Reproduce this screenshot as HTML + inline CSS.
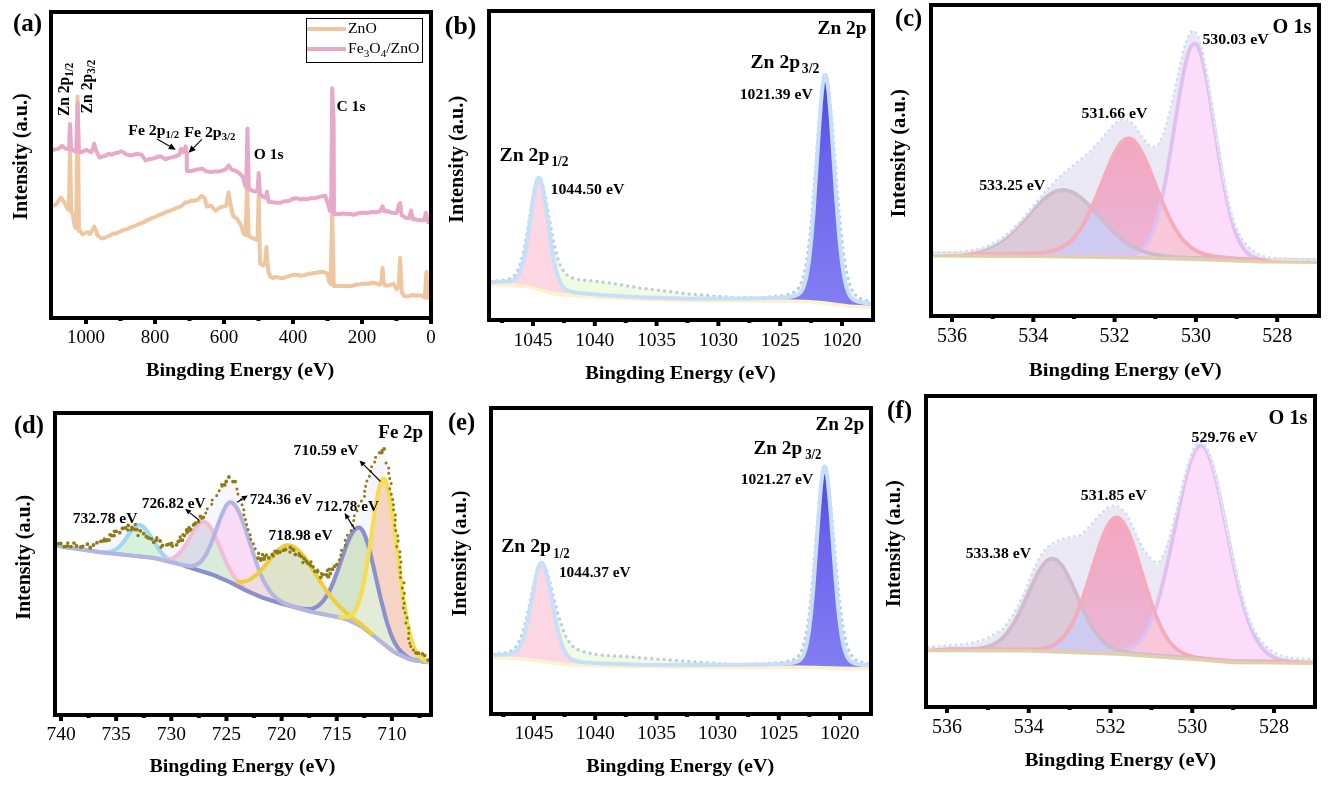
<!DOCTYPE html>
<html><head><meta charset="utf-8"><style>
html,body{margin:0;padding:0;background:#fff;}
svg{display:block;font-family:"Liberation Serif", serif;will-change:transform;}
</style></head><body>
<svg width="1338" height="789" viewBox="0 0 1338 789">
<rect width="1338" height="789" fill="#fff"/>
<path d="M53.0 206.0 L56.5 204.0 L60.8 197.5 L64.0 201.8 L67.3 208.3 L68.8 210.0 L70.0 151.0 L71.3 212.0 L72.6 213.7 L74.8 226.6 L76.2 228.0 L77.6 96.5 L79.0 231.0 L80.2 231.0 L82.3 234.2 L85.0 233.3 L87.7 232.0 L89.9 234.2 L92.5 230.0 L94.2 226.6 L95.8 230.0 L97.4 235.3 L101.8 238.5 L104.7 237.8 L107.5 236.5 L110.4 235.3 L113.1 233.6 L115.8 233.6 L118.5 232.3 L121.2 231.0 L124.1 229.7 L127.1 229.1 L130.0 227.7 L132.9 226.7 L135.8 225.5 L138.6 224.2 L141.5 223.0 L144.2 222.0 L147.0 220.2 L149.8 219.2 L152.5 217.8 L155.2 217.1 L158.0 215.6 L160.7 214.5 L163.5 213.3 L166.2 211.9 L168.9 211.1 L171.7 210.1 L174.4 209.0 L177.0 207.6 L179.7 206.9 L182.3 205.5 L185.0 202.5 L187.6 202.4 L190.9 200.7 L194.2 200.7 L197.5 199.9 L201.6 195.8 L204.9 198.3 L206.6 206.5 L210.7 205.7 L215.6 210.6 L218.1 208.8 L220.6 207.3 L223.4 206.6 L226.3 205.7 L228.5 192.5 L230.5 204.0 L232.9 215.6 L237.0 218.9 L241.2 225.5 L243.6 233.7 L245.5 235.0 L247.1 187.0 L248.7 236.0 L249.1 236.3 L252.1 237.9 L255.2 239.3 L257.5 240.0 L258.7 195.0 L260.0 262.0 L260.3 263.7 L263.3 265.7 L265.2 262.0 L266.4 247.0 L267.4 262.0 L268.4 271.8 L270.4 276.9 L272.9 278.1 L275.5 276.9 L278.1 277.5 L280.6 277.9 L283.7 278.0 L286.7 276.6 L289.8 275.9 L292.8 274.8 L295.5 274.9 L298.2 274.7 L300.9 275.8 L303.4 275.4 L305.9 274.8 L308.5 273.7 L311.0 273.8 L314.1 273.0 L317.1 272.8 L320.1 271.9 L323.2 271.8 L327.3 273.8 L329.3 281.9 L330.5 284.0 L332.2 213.0 L333.8 286.0 L336.5 286.0 L339.2 286.0 L341.9 286.0 L344.6 285.8 L347.3 286.3 L350.0 286.0 L353.2 285.7 L356.5 284.5 L359.1 284.4 L361.7 283.7 L364.3 284.1 L366.8 283.4 L369.4 283.8 L372.0 282.6 L374.6 282.9 L379.5 284.5 L381.3 282.0 L382.5 268.0 L383.7 282.0 L384.8 285.4 L389.4 285.4 L393.5 283.7 L396.8 289.5 L398.8 285.0 L400.1 258.0 L401.4 285.0 L401.7 292.0 L404.2 296.1 L406.9 296.4 L409.7 295.8 L412.4 295.1 L415.2 295.4 L417.9 295.4 L420.7 295.2 L424.8 297.7 L426.4 272.0 L427.6 297.0 L429.0 299.4" fill="none" stroke="#eec7a0" stroke-width="4" stroke-linejoin="round" stroke-linecap="butt" />
<path d="M53.0 150.1 L55.8 149.4 L58.6 148.6 L61.9 145.8 L65.1 148.6 L68.3 149.0 L69.0 149.0 L70.0 124.0 L71.2 150.0 L72.6 150.0 L74.8 151.2 L76.3 151.0 L77.6 103.3 L79.0 152.0 L81.3 152.2 L84.0 150.9 L86.7 150.0 L91.0 152.2 L92.8 149.0 L94.2 143.6 L95.6 149.0 L96.4 151.2 L99.6 157.6 L102.8 156.4 L106.0 155.5 L108.9 153.7 L111.8 154.8 L114.7 153.3 L118.0 152.8 L121.2 151.2 L123.8 152.7 L126.5 154.4 L129.9 155.4 L133.2 154.9 L136.5 153.8 L139.0 154.3 L141.5 154.6 L145.6 160.4 L148.5 159.3 L151.4 158.7 L154.4 158.3 L157.4 156.9 L160.4 156.2 L162.9 157.7 L165.4 159.5 L169.1 157.9 L172.8 157.1 L176.1 156.1 L179.4 154.6 L181.0 148.8 L183.5 152.1 L185.6 146.4 L186.8 153.0 L186.8 171.1 L190.9 171.1 L194.2 170.2 L197.5 169.4 L202.4 168.6 L205.7 171.1 L209.0 171.7 L212.3 171.9 L215.1 171.4 L217.8 171.4 L220.6 171.1 L225.5 169.4 L228.8 165.3 L231.3 169.4 L235.0 170.6 L238.7 172.7 L242.8 176.8 L245.3 185.9 L246.2 187.0 L247.5 128.4 L248.8 189.0 L249.4 189.2 L252.3 190.8 L255.2 191.6 L257.5 191.0 L258.7 173.0 L259.9 193.0 L260.3 194.7 L264.4 197.7 L265.8 197.0 L267.0 191.6 L268.2 199.0 L268.4 201.8 L271.4 202.1 L274.5 202.4 L277.6 202.7 L280.6 202.8 L283.7 201.3 L286.7 201.1 L289.8 200.7 L292.8 198.7 L295.5 198.3 L298.2 198.6 L300.9 199.7 L303.4 198.7 L305.9 199.4 L308.5 198.7 L311.0 198.3 L313.8 198.3 L316.7 197.6 L319.5 196.8 L322.4 196.3 L325.2 195.7 L328.3 204.8 L330.0 210.9 L331.3 195.0 L332.2 88.2 L333.6 120.0 L334.0 213.9 L336.7 213.8 L339.3 214.3 L342.0 213.4 L344.7 213.7 L347.3 214.0 L350.0 213.9 L353.2 214.7 L356.5 213.8 L359.2 213.2 L362.0 212.7 L364.7 212.7 L367.4 213.1 L370.2 212.3 L372.9 212.1 L376.6 212.3 L380.3 211.3 L382.5 206.3 L384.5 211.3 L387.6 210.9 L390.6 212.6 L393.7 213.0 L396.8 212.9 L398.9 205.0 L400.1 203.0 L401.7 215.4 L405.9 217.9 L409.1 217.9 L411.1 210.5 L412.8 219.5 L415.4 219.1 L418.1 220.1 L420.7 220.3 L424.0 220.3 L425.9 212.9 L428.1 222.0 L429.0 222.0" fill="none" stroke="#e8a9c8" stroke-width="4" stroke-linejoin="round" stroke-linecap="butt" />
<rect x="306.5" y="18.5" width="116" height="44" fill="#fff" stroke="#000" stroke-width="1"/>
<line x1="307" y1="29" x2="346" y2="29" stroke="#eec7a0" stroke-width="3.8"/>
<line x1="307" y1="49" x2="346" y2="49" stroke="#e8a9c8" stroke-width="3.8"/>
<defs>
<linearGradient id="gb" x1="0" y1="0" x2="0" y2="1"><stop offset="0" stop-color="#4d44e2"/><stop offset="0.35" stop-color="#6a63ec"/><stop offset="1" stop-color="#837df2"/></linearGradient>
<linearGradient id="gpc" gradientUnits="userSpaceOnUse" x1="0" y1="140" x2="0" y2="256"><stop offset="0" stop-color="#f2a6c0"/><stop offset="1" stop-color="#ebb6d6"/></linearGradient>
<linearGradient id="gpf" gradientUnits="userSpaceOnUse" x1="0" y1="517" x2="0" y2="652"><stop offset="0" stop-color="#f2a6c0"/><stop offset="1" stop-color="#ebb6d6"/></linearGradient>
</defs>
<path d="M491 284.2 511.5 284.9 526 286.4 530 287.1 540 289.6 550.5 292.7 554 293.4 567 295 599 297 640 299.1 689 300.6 788.5 300.9 810 301.5 825 302.9 850 306.1 871 307" fill="none" stroke="#fcf2cf" stroke-width="4" stroke-linejoin="round" stroke-linecap="round" />
<path d="M491 281.1 498 280.8 503 280.3 506.5 279.8 509.5 278.8 512 277.4 514.5 275.3 516.5 272.6 518 269.8 520 264.8 521.5 259.9 523 254 524.5 247 527 233.3 532.5 199 534.5 188.3 535.5 184 536.5 180.7 537.5 178.6 538.5 177.6 539 177.7 539.5 178 541 180.1 542 182.6 543.5 188 546 200.2 553 239.3 555.5 250.5 558 259.4 560.5 265.8 563 270.2 566 273.7 567.5 275.2 569.5 276.6 571.5 277.6 575.5 278.9 581 279.9 595 281.2 610 283 640 287.9 688.5 293.9 715 296.2 735 297.6 750 297.9 764 297.3 774.5 296.6 781.5 295.8 787 294.8 791.5 293.5 794.5 292 796.5 290.5 798.5 288.1 800.5 284.7 802 281 803.5 276.1 805 269.7 807.5 254.9 809.5 238.8 812 213.1 814.5 181.9 819 120.8 821 97.6 822 88.4 823 81.3 824 76.7 824.5 75.4 825 74.8 825.5 74.9 826 75.7 827 78.9 828 84.4 829.5 96.4 832 123.6 837 187.6 840 222 843 249.4 844.5 260.1 846.5 271.6 848 278.4 850 285.2 852 290 854.5 294 857 296.5 858.5 297.6 860.5 298.7 865 300.4 871 301.7 L871 303.7 863.5 302.8 858 301.6 854.5 300.2 852 298.3 850 295.8 848 291.7 846 285.3 844.5 278.6 843 269.9 841.5 258.7 840 244.9 838.5 228.4 836 195.4 831 121.1 829 96.4 828 86.9 827 80 826 75.9 825.5 75 825 74.9 824.5 75.6 824 77.1 823 82.7 822 91.2 821 102.2 819 129.7 813.5 213 811.5 237.4 809.5 256.7 808.5 264.4 807 273.6 806 278.5 804.5 284.2 803 288.2 801.5 291 800 292.9 798 294.5 795 295.8 790.5 296.7 782.5 297.5 772.5 298.1 742.5 298.6 689.5 298.7 640 297.2 601.5 295 587.5 293.8 577 292.7 571.5 291.7 567.5 290.4 565.5 289.2 564 287.9 562.5 286.2 561 283.9 558.5 278.3 556 270 554 261.1 551.5 246.9 545.5 204.8 543.5 192.3 542 184.8 541 181.2 540 178.8 539 177.7 538.5 177.7 538 178.1 537 180 536 183.4 535 188 533 200 528 235.5 525.5 250.9 524 258.5 522.5 264.7 521 269.5 519.5 273.2 518 275.9 516 278.3 514 279.7 512 280.6 509 281.2 505.5 281.6 491 281.9 Z" fill="#f1fbe2" stroke="none" />
<path d="M491 281.9 505.5 281.6 509 281.3 512 280.6 514 279.8 516 278.3 518 275.9 519.5 273.2 521 269.5 522.5 264.7 524 258.5 525.5 251 528 235.6 533 200 535 188 536 183.4 537 180.1 538 178.1 538.5 177.8 539 177.8 540 178.8 541 181.2 542 184.9 543.5 192.3 545.5 204.9 551 243.7 553 255.9 554.5 263.6 556 270.1 558 276.9 560 282 562 285.5 564 288 566.5 289.9 569.5 291.2 573 292.1 580.5 293.2 593 294.4 619 296.1 L619 296.4 599 295.4 565 293.2 552 291.4 539 287.8 530 285.5 527 284.9 511.5 283.3 491 282.6 Z" fill="#fdd6e3" stroke="none" />
<path d="M720.5 298.8 748 298.6 767 298.3 780.5 297.7 790 296.8 795 295.9 798 294.6 799.5 293.4 800.5 292.4 802 290.2 803 288.2 805 282.5 807 273.7 809 260.7 810.5 247.7 812 231.8 814 206.2 819 129.7 821 102.2 822 91.2 823 82.7 824 77.2 824.5 75.6 825 74.9 825.5 75 826 75.9 827 80 828 87 829 96.4 831 121.1 836 195.4 838.5 228.4 840 245 841.5 258.8 843 269.9 844.5 278.7 846 285.4 848 291.7 850 295.8 852 298.3 854.5 300.2 858 301.6 863.5 302.8 871 303.7 L871 305.4 850 304.5 825 301.3 810.5 300 789 299.3 720.5 299.1 Z" fill="url(#gb)" stroke="none" />
<path d="M491 281.1 498 280.8 503 280.3 506.5 279.8 509.5 278.8 512 277.4 514.5 275.3 516.5 272.6 518 269.8 520 264.8 521.5 259.9 523 254 524.5 247 527 233.3 532.5 199 534.5 188.3 535.5 184 536.5 180.7 537.5 178.6 538.5 177.6 539 177.7 539.5 178 541 180.1 542 182.6 543.5 188 546 200.2 553 239.3 555.5 250.5 558 259.4 560.5 265.8 563 270.2 566 273.7 567.5 275.2 569.5 276.6 571.5 277.6 575.5 278.9 581 279.9 595 281.2 610 283 640 287.9 688.5 293.9 715 296.2 735 297.6 750 297.9 764 297.3 774.5 296.6 781.5 295.8 787 294.8 791.5 293.5 794.5 292 796.5 290.5 798.5 288.1 800.5 284.7 802 281 803.5 276.1 805 269.7 807.5 254.9 809.5 238.8 812 213.1 814.5 181.9 819 120.8 821 97.6 822 88.4 823 81.3 824 76.7 824.5 75.4 825 74.8 825.5 74.9 826 75.7 827 78.9 828 84.4 829.5 96.4 832 123.6 837 187.6 840 222 843 249.4 844.5 260.1 846.5 271.6 848 278.4 850 285.2 852 290 854.5 294 857 296.5 858.5 297.6 860.5 298.7 865 300.4 871 301.7" fill="none" stroke="#bacbe1" stroke-width="3.4" stroke-linecap="round" stroke-dasharray="0 6.2"/>
<path d="M491 281.9 505.5 281.6 509 281.2 512 280.6 514 279.7 516 278.3 518 275.9 519.5 273.2 521 269.5 522.5 264.7 524 258.5 525.5 250.9 528 235.5 533 200 535 188 536 183.4 537 180 538 178.1 538.5 177.7 539 177.7 540 178.8 541 181.2 542 184.8 543.5 192.3 545.5 204.8 551.5 246.9 554 261.1 556 270 558.5 278.3 561 283.9 562.5 286.2 564 287.9 565.5 289.2 567.5 290.4 571.5 291.7 577 292.7 587.5 293.8 601.5 295 640 297.2 689.5 298.7 742.5 298.6 772.5 298.1 782.5 297.5 790.5 296.7 795 295.8 798 294.5 800 292.9 801.5 291 803 288.2 804.5 284.2 806 278.5 807 273.6 808.5 264.4 809.5 256.7 811.5 237.4 813.5 213 819 129.7 821 102.2 822 91.2 823 82.7 824 77.1 824.5 75.6 825 74.9 825.5 75 826 75.9 827 80 828 86.9 829 96.4 831 121.1 836 195.4 838.5 228.4 840 244.9 841.5 258.7 843 269.9 844.5 278.6 846 285.3 848 291.7 850 295.8 852 298.3 854.5 300.2 858 301.6 863.5 302.8 871 303.7" fill="none" stroke="#c6e0fa" stroke-width="4" stroke-linejoin="round" stroke-linecap="round" />
<path d="M493 657.4 506.5 657.8 521.5 658.8 533 659.9 551 662.6 569 664.6 600 665.8 642 666.6 700.5 666.9 800.5 667 814 667.3 840.5 668.2 869 668.6" fill="none" stroke="#fcf2cf" stroke-width="4" stroke-linejoin="round" stroke-linecap="round" />
<path d="M493 654.1 499 653.8 503.5 653.3 507 652.6 510 651.6 512.5 650.1 514.5 648.4 516.5 646 518.5 642.7 520.5 638.4 522 634.4 523.5 629.8 525.5 622.5 528.5 609.5 534.5 580.5 537 570.6 538.5 566.2 539.5 564.2 540.5 563 541.5 562.6 542.5 563.1 544 565 546 569.3 547.5 573.5 550 582.3 555.5 604.6 558 613.9 562 626.9 565 634.8 568 640.5 571.5 645 573.5 646.9 575.5 648.3 577.5 649.4 580 650.5 583 651.5 588.5 652.9 600 655.2 620 656.2 638.5 657.7 702 662.4 720 663.6 728 664 740 664.4 758.5 664 772.5 663.3 780.5 662.5 786.5 661.6 791 660.6 794.5 659.1 796.5 657.8 798.5 655.8 800.5 652.8 802 649.5 803.5 645.2 805 639.5 807.5 626.1 809.5 611.4 812 587.7 814 564.9 818.5 508.8 820.5 487.2 821.5 478.7 822.5 472.2 823.5 468 824 466.9 824.5 466.4 825 466.6 825.5 467.4 826.5 470.6 827.5 475.9 828.5 483.1 831 507.2 836.5 570.7 839 596.2 842 620.4 843.5 629.8 845 637.4 846.5 643.5 848.5 649.6 850.5 653.9 853 657.4 855.5 659.6 859 661.5 863.5 662.8 869 663.8 L869 665.5 862 664.9 857 664.1 853.5 663 851 661.6 849 659.6 847 656.4 845 651.3 843.5 645.7 842 638.2 840.5 628.5 839 616.3 837.5 601.5 835 571.7 830 504.4 828 482.7 827 474.8 826 469.4 825.5 467.7 825 466.7 824.5 466.5 824 467 823 470.5 822 477 821 486 819 510 813 592.7 811 614.3 809 630.8 807 642.7 806 647.1 804.5 652.1 803 655.7 801.5 658.1 800 659.8 798 661.2 795 662.3 790.5 663.2 783.5 663.8 774.5 664.3 747 664.8 698 665 640.5 664.7 603.5 663.6 593 663.1 583 662.2 578 661.5 574 660.4 572 659.5 570 658.2 568.5 656.8 567 655 565.5 652.6 564 649.7 561.5 643.4 559 634.9 556.5 624.3 549 585 546.5 573.5 545 568.2 544 565.6 542.5 563.2 541.5 562.7 540.5 563.2 539.5 564.6 538.5 567.1 537 572.3 535 581.6 529.5 611.8 526.5 626.4 525 632.4 523.5 637.6 522 641.8 520 646.1 518.5 648.5 516.5 650.9 514.5 652.4 512 653.6 509.5 654.2 506 654.6 493 655 Z" fill="#f1fbe2" stroke="none" />
<path d="M493 655 506 654.7 509.5 654.3 512 653.6 514.5 652.5 516.5 650.9 518.5 648.5 520 646.1 522 641.8 523.5 637.6 525 632.5 526.5 626.5 529.5 611.9 535 581.6 537 572.4 538.5 567.1 539.5 564.7 540.5 563.2 541.5 562.7 542.5 563.2 544 565.6 545 568.3 546.5 573.5 549 585 556 622 558 631 560 638.6 562 644.9 564 649.8 566 653.5 568 656.3 570.5 658.6 573 660 576.5 661.2 581 662 588.5 662.8 600 663.5 628 664.5 L628 664.8 600 664.2 569.5 663 551 661 533 658.3 521.5 657.2 506.5 656.2 493 655.8 Z" fill="#fdd6e3" stroke="none" />
<path d="M730 665 754 664.8 770.5 664.5 782.5 663.9 791 663.1 796 662.1 797.5 661.5 799 660.6 800.5 659.3 801.5 658.2 803.5 654.7 805.5 649 807 642.7 809 630.9 810.5 618.9 812 604.1 813.5 586.6 819 510 820.5 491.4 821.5 481.2 822.5 473.4 823.5 468.4 824 467.1 824.5 466.5 825 466.7 825.5 467.7 826 469.4 827 474.8 828 482.7 830 504.4 835 571.7 837.5 601.6 839 616.4 840.5 628.6 842 638.3 843.5 645.7 845 651.3 847 656.4 849 659.6 851 661.6 853.5 663.1 857 664.1 862 664.9 869 665.5 L869 667 840.5 666.6 814 665.7 801 665.4 730 665.3 Z" fill="url(#gb)" stroke="none" />
<path d="M493 654.1 499 653.8 503.5 653.3 507 652.6 510 651.6 512.5 650.1 514.5 648.4 516.5 646 518.5 642.7 520.5 638.4 522 634.4 523.5 629.8 525.5 622.5 528.5 609.5 534.5 580.5 537 570.6 538.5 566.2 539.5 564.2 540.5 563 541.5 562.6 542.5 563.1 544 565 546 569.3 547.5 573.5 550 582.3 555.5 604.6 558 613.9 562 626.9 565 634.8 568 640.5 571.5 645 573.5 646.9 575.5 648.3 577.5 649.4 580 650.5 583 651.5 588.5 652.9 600 655.2 620 656.2 638.5 657.7 702 662.4 720 663.6 728 664 740 664.4 758.5 664 772.5 663.3 780.5 662.5 786.5 661.6 791 660.6 794.5 659.1 796.5 657.8 798.5 655.8 800.5 652.8 802 649.5 803.5 645.2 805 639.5 807.5 626.1 809.5 611.4 812 587.7 814 564.9 818.5 508.8 820.5 487.2 821.5 478.7 822.5 472.2 823.5 468 824 466.9 824.5 466.4 825 466.6 825.5 467.4 826.5 470.6 827.5 475.9 828.5 483.1 831 507.2 836.5 570.7 839 596.2 842 620.4 843.5 629.8 845 637.4 846.5 643.5 848.5 649.6 850.5 653.9 853 657.4 855.5 659.6 859 661.5 863.5 662.8 869 663.8" fill="none" stroke="#bacbe1" stroke-width="3.4" stroke-linecap="round" stroke-dasharray="0 6.2"/>
<path d="M493 655 506 654.6 509.5 654.2 512 653.6 514.5 652.4 516.5 650.9 518.5 648.5 520 646.1 522 641.8 523.5 637.6 525 632.4 526.5 626.4 529.5 611.8 535 581.6 537 572.3 538.5 567.1 539.5 564.6 540.5 563.2 541.5 562.7 542.5 563.2 544 565.6 545 568.2 546.5 573.5 549 585 556.5 624.3 559 634.9 561.5 643.4 564 649.7 565.5 652.6 567 655 568.5 656.8 570 658.2 572 659.5 574 660.4 578 661.5 583 662.2 593 663.1 603.5 663.6 640.5 664.7 698 665 747 664.8 774.5 664.3 783.5 663.8 790.5 663.2 795 662.3 798 661.2 800 659.8 801.5 658.1 803 655.7 804.5 652.1 806 647.1 807 642.7 809 630.8 811 614.3 813 592.7 819 510 821 486 822 477 823 470.5 824 467 824.5 466.5 825 466.7 825.5 467.7 826 469.4 827 474.8 828 482.7 830 504.4 835 571.7 837.5 601.5 839 616.3 840.5 628.5 842 638.2 843.5 645.7 845 651.3 847 656.4 849 659.6 851 661.6 853.5 663 857 664.1 862 664.9 869 665.5" fill="none" stroke="#c6e0fa" stroke-width="4" stroke-linejoin="round" stroke-linecap="round" />
<path d="M933 254.1 947.5 253.8 958.5 253.4 967.5 252.5 975 251.3 982.5 249.3 989 246.9 995.5 243.7 1001.5 239.9 1005.5 236.8 1009.5 233.4 1013.5 229.7 1018 225.1 1025.5 216.7 1045 193.5 1050.5 187.4 1055.5 182.3 1060.5 177.5 1066 172.6 1083 159 1090 152.9 1097.5 145.1 1109 131.4 1112.5 127.5 1116.5 123.8 1120 121.6 1122.5 120.8 1125 120.7 1127 121.2 1129.5 122.5 1132 124.6 1135 127.9 1144.5 141.3 1146.5 143.9 1148.5 146 1151 147.8 1153 148.4 1155 148.1 1157 146.9 1158.5 145.3 1159.5 143.8 1162 139 1164.5 132.5 1167 124.4 1171.5 106.3 1181.5 60.5 1183.5 52.4 1185.5 45.3 1187.5 39.6 1189.5 35.3 1190.5 33.8 1191.5 32.8 1193 32.1 1194 32.3 1195 32.9 1196 34 1197.5 36.6 1198.5 39 1200 43.4 1202.5 52.9 1205 64.9 1208 81.8 1219.5 156.2 1222.5 174 1225.5 189.9 1228.5 203.7 1232 217 1235.5 227.3 1237.5 232.1 1239.5 236.1 1242 240.4 1244.5 243.9 1247 246.8 1250 249.7 1253 252.1 1256.5 254.4 1260 256.3 1263.5 257.6 1269.5 259 1277.5 259.8 1288 260.2 1317 260.6 L1317 261 1259.5 260.5 1200 258.3 1148.5 256.8 1050 255.3 933 254.5 Z" fill="#e9e8f4" stroke="none" />
<path d="M947 254.3 955.5 254 963 253.5 969.5 252.8 975 251.9 980.5 250.6 985.5 249 990.5 247 995 244.7 999.5 242.1 1003.5 239.3 1007.5 236.1 1012 232.2 1020 224.2 1037.5 205.1 1042 200.7 1046 197.3 1050.5 194.1 1055 191.7 1059.5 190.4 1063.5 190 1067.5 190.5 1072 192 1076.5 194.4 1081 197.8 1085 201.3 1089.5 205.8 1107 225.2 1114.5 232.9 1119 237 1123 240.3 1127 243.2 1131.5 246.1 1136 248.5 1141 250.6 1146 252.3 1152 253.9 1157.5 255.1 1164 256 1171.5 256.8 1180 257.4 L1180 257.7 1149 256.8 1051.5 255.3 947 254.6 Z" fill="#dccad9" stroke="none" />
<path d="M933 254.1 1004 254.1 1022.5 253.9 1034.5 253.4 1044 252.6 1051.5 251.2 1055 250.2 1058 249.2 1063.5 246.5 1068.5 242.9 1071 240.7 1073.5 238.1 1078 232.6 1082.5 225.7 1087 217.5 1092 206.9 1097 195 1108.5 166.2 1112 158.2 1115 152.1 1118.5 146.1 1120.5 143.3 1122 141.6 1124 139.9 1125.5 139 1127 138.4 1128.5 138.3 1130 138.5 1131.5 139.1 1133 140 1135 141.8 1136.5 143.6 1138.5 146.4 1142 152.5 1145 158.7 1148.5 166.8 1160 196.1 1165 208.2 1170 219 1175 228.3 1179.5 235.2 1184 240.9 1188.5 245.3 1193.5 249.1 1196.5 250.8 1199.5 252.2 1203 253.6 1206.5 254.7 1214.5 256.3 1224.5 257.5 1238.5 258.6 1260 259.7 1317 260.6 L1317 261 1259.5 260.5 1200 258.3 1148.5 256.8 1050 255.3 933 254.5 Z" fill="url(#gpc)" stroke="none" />
<path d="M1121.5 256.1 1128.5 255.4 1133.5 254.3 1136 253.4 1138 252.3 1141.5 249.8 1145 246.1 1147 243.2 1148.5 240.7 1151.5 234.6 1154.5 226.7 1157 218.7 1159.5 209.3 1162 198.4 1165 183.4 1169.5 157.7 1179.5 94.9 1182 80.6 1184.5 68.1 1187 57.7 1189.5 50 1191 46.7 1192 45.2 1193.5 43.9 1194.5 43.6 1195.5 43.9 1197 45.3 1198 46.9 1199.5 50.3 1202 58.2 1204.5 68.7 1207 81.4 1209.5 95.8 1219.5 159.3 1224 185.3 1227 200.5 1229.5 211.6 1232 221.2 1234.5 229.4 1237.5 237.4 1240.5 243.7 1244 249.3 1247.5 253.2 1249.5 254.8 1251.5 256.2 1253.5 257.2 1256 258.3 1261 259.6 1267.5 260.3 L1267.5 260.6 1258.5 260.4 1200 258.3 1152 256.9 1121.5 256.4 Z" fill="#fbdcfb" stroke="none" />
<path d="M947 254.3 1005.5 254.1 1029.5 253.6 1037.5 253.2 1044 252.6 1050 251.5 1055 250.2 1060.5 248.1 1065.5 245.2 1070 241.6 1074.5 237 1079 231.2 1083 224.8 1087 217.5 1091.5 208 1107.5 225.8 1115.5 233.9 1120 237.9 1124 241.1 1128 243.9 1132.5 246.6 1137 248.9 1142 251 1147 252.6 1153 254.2 1158.5 255.2 1165 256.2 1180 257.4 L1180 257.7 1149 256.8 1051.5 255.3 947 254.6 Z" fill="#cfcaf0" stroke="none" />
<path d="M1121.5 256.1 1126 255.8 1130 255.2 1133 254.5 1136 253.4 1139 251.7 1141.5 249.8 1144 247.3 1146 244.7 1148 241.6 1150 237.9 1152 233.4 1154 228.2 1156 222.1 1158 215.1 1161.5 200.7 1162 201.1 1166.5 211.6 1171 221 1175 228.3 1178.5 233.8 1182.5 239.1 1186.5 243.5 1191 247.3 1195.5 250.3 1200 252.4 1205 254.2 1210.5 255.6 1216.5 256.6 1223 257.4 1231.5 258.1 1262 259.7 1267.5 260.3 L1267.5 260.6 1258.5 260.4 1200 258.3 1152 256.9 1121.5 256.4 Z" fill="#f8c7d9" stroke="none" />
<path d="M1121.5 256.1 1127.5 255.6 1132.5 254.6 1136.5 253.1 1138.5 252 1140.5 250.6 1141 250.6 1145 252 1149 253.2 1158 255.1 1168 256.5 1180 257.4 L1180 257.7 1150 256.8 1121.5 256.4 Z" fill="#e6d0f0" stroke="none" />
<path d="M933 254.5 1049 255.3 1105.5 256.1 1119 256.1 1126.5 255.7 1132 254.7 1134.5 254 1137 252.9 1139 251.7 1141 250.2 1143.5 247.8 1146 244.7 1148.5 240.7 1150.5 236.8 1152.5 232.2 1154.5 226.7 1156.5 220.4 1158.5 213.2 1162.5 196 1166.5 175.2 1170.5 151.5 1179.5 94.9 1184 70.4 1187 57.7 1189.5 50 1191 46.7 1192 45.2 1193.5 43.9 1194.5 43.6 1195.5 43.9 1196.5 44.7 1197.5 46.1 1199 49 1201 54.7 1203.5 64.2 1206 76.1 1208.5 89.9 1220.5 165.4 1223.5 182.6 1226.5 198.1 1230 213.6 1233.5 226.3 1237 236.2 1239 240.8 1241 244.6 1243 247.9 1245 250.5 1247 252.7 1249 254.5 1251.5 256.2 1254 257.5 1256.5 258.4 1259.5 259.3 1265 260.1 1273 260.5 1317 261" fill="none" stroke="#e0c0f0" stroke-width="3.8" stroke-linejoin="round" stroke-linecap="round" />
<path d="M933 254.4 955 254 962.5 253.6 969.5 252.8 976 251.7 982 250.1 987.5 248.3 992.5 246 997.5 243.3 1002 240.4 1006.5 237 1011 233.1 1019.5 224.7 1038 204.6 1042.5 200.3 1046.5 196.9 1051 193.8 1055 191.7 1059.5 190.4 1063.5 190 1067.5 190.5 1072 192 1076.5 194.4 1081.5 198.2 1085.5 201.8 1090 206.3 1105.5 223.6 1112 230.5 1118 236.2 1124 241.1 1129.5 244.9 1135.5 248.2 1141.5 250.8 1147.5 252.8 1155 254.6 1163 255.9 1172.5 256.9 1184.5 257.6 1259.5 260.5 1317 261" fill="none" stroke="#ccbccc" stroke-width="3.8" stroke-linejoin="round" stroke-linecap="round" />
<path d="M933 254.1 1004 254.1 1022.5 253.9 1034.5 253.4 1044 252.6 1051.5 251.2 1055 250.2 1058 249.2 1063.5 246.5 1068.5 242.9 1071 240.7 1073.5 238.1 1078 232.6 1082.5 225.7 1087 217.5 1092 206.9 1097 195 1108.5 166.2 1112 158.2 1115 152.1 1118.5 146.1 1120.5 143.3 1122 141.6 1124 139.9 1125.5 139 1127 138.4 1128.5 138.3 1130 138.5 1131.5 139.1 1133 140 1135 141.8 1136.5 143.6 1138.5 146.4 1142 152.5 1145 158.7 1148.5 166.8 1160 196.1 1165 208.2 1170 219 1175 228.3 1179.5 235.2 1184 240.9 1188.5 245.3 1193.5 249.1 1196.5 250.8 1199.5 252.2 1203 253.6 1206.5 254.7 1214.5 256.3 1224.5 257.5 1238.5 258.6 1260 259.7 1317 260.6" fill="none" stroke="#f4abbb" stroke-width="3.8" stroke-linejoin="round" stroke-linecap="round" />
<path d="M933 255.7 1050 256.5 1148.5 258 1200 259.5 1259.5 261.7 1317 262.2" fill="none" stroke="#dcd0ae" stroke-width="3.6" stroke-linejoin="round" stroke-linecap="round" />
<path d="M933 253.6 947.5 253.3 958.5 252.9 967.5 252 975 250.8 982.5 248.8 989 246.4 995.5 243.2 1001.5 239.4 1005.5 236.3 1009.5 232.9 1013.5 229.2 1018 224.6 1025.5 216.2 1045 193 1050.5 186.9 1055.5 181.8 1060.5 177 1066 172.1 1083 158.5 1090 152.4 1097.5 144.6 1109 130.9 1112.5 127 1116.5 123.3 1120 121.1 1122.5 120.3 1125 120.2 1127 120.7 1129.5 122 1132 124.1 1135 127.4 1144.5 140.8 1146.5 143.4 1148.5 145.5 1151 147.3 1153 147.9 1155 147.6 1157 146.4 1158.5 144.8 1159.5 143.3 1162 138.5 1164.5 132 1167 123.9 1171.5 105.8 1181.5 60 1183.5 51.9 1185.5 44.8 1187.5 39.1 1189.5 34.8 1190.5 33.3 1191.5 32.3 1193 31.6 1194 31.8 1195 32.4 1196 33.5 1197.5 36.1 1198.5 38.5 1200 42.9 1202.5 52.4 1205 64.4 1208 81.3 1219.5 155.7 1222.5 173.5 1225.5 189.4 1228.5 203.2 1232 216.5 1235.5 226.8 1237.5 231.6 1239.5 235.6 1242 239.9 1244.5 243.4 1247 246.3 1250 249.2 1253 251.6 1256.5 253.9 1260 255.8 1263.5 257.1 1269.5 258.5 1277.5 259.3 1288 259.7 1317 260.1" fill="none" stroke="#f6eef6" stroke-width="1.5" stroke-linejoin="round" stroke-linecap="round" />
<path d="M933 252.8 947.5 252.5 958.5 252.1 967.5 251.2 975 250 982.5 248 989 245.6 995.5 242.4 1001.5 238.6 1005.5 235.5 1009.5 232.1 1013.5 228.4 1018 223.8 1025.5 215.4 1045 192.2 1050.5 186.1 1055.5 181 1060.5 176.2 1066 171.3 1083 157.7 1090 151.6 1097.5 143.8 1109 130.1 1112.5 126.2 1116.5 122.5 1120 120.3 1122.5 119.5 1125 119.4 1127 119.9 1129.5 121.2 1132 123.3 1135 126.6 1144.5 140 1146.5 142.6 1148.5 144.7 1151 146.5 1153 147.1 1155 146.8 1157 145.6 1158.5 144 1159.5 142.5 1162 137.7 1164.5 131.2 1167 123.1 1171.5 105 1181.5 59.2 1183.5 51.1 1185.5 44 1187.5 38.3 1189.5 34 1190.5 32.5 1191.5 31.5 1193 30.8 1194 31 1195 31.6 1196 32.7 1197.5 35.3 1198.5 37.7 1200 42.1 1202.5 51.6 1205 63.6 1208 80.5 1219.5 154.9 1222.5 172.7 1225.5 188.6 1228.5 202.4 1232 215.7 1235.5 226 1237.5 230.8 1239.5 234.8 1242 239.1 1244.5 242.6 1247 245.5 1250 248.4 1253 250.8 1256.5 253.1 1260 255 1263.5 256.3 1269.5 257.7 1277.5 258.5 1288 258.9 1317 259.3" fill="none" stroke="#cadff5" stroke-width="2.9" stroke-linecap="round" stroke-dasharray="0 5.6"/>
<path d="M928 648.5 965.5 645.6 967.5 645.3 985 640.9 1002.5 630.8 1004.5 628.5 1013 616.4 1015 613 1024.5 594.3 1034.5 569.1 1041 556.7 1043 553.8 1050 546.2 1051 545.5 1056 543 1058 542.2 1067.5 538.9 1079 536.7 1080 536.4 1081 535.9 1088 529.9 1095.5 520.6 1097.5 518.4 1107.5 509.2 1108.5 508.4 1109.5 508 1115.5 506.8 1117 506.9 1118 507.5 1126 514.5 1127 515.8 1128 517.7 1136 535.5 1142 548.4 1143.5 551 1152 561.4 1153 562.3 1154.5 563 1158 563.7 1159 563.5 1159.5 563.1 1160.5 561.6 1165 553.2 1169 541 1173 526.2 1184 480 1187 469 1190 459.4 1193 451.8 1195.5 447.2 1197 445.3 1198 444.3 1199.5 443.5 1200.5 443.3 1202 443.7 1203.5 444.7 1205 446.4 1206.5 448.8 1208 451.8 1209.5 455.5 1213 466.3 1216 477.7 1219 490.7 1233 559.4 1236.5 575.2 1239.5 587.7 1243.5 602.5 1247 613.6 1250.5 622.9 1254.5 631.7 1257 636.2 1259.5 640.1 1262 643.4 1264.5 646.3 1267 648.7 1270 651.2 1273 653.3 1276.5 655.2 1279.5 656.6 1283 657.8 1286.5 658.6 1290.5 659.3 1299.5 660.1 1313 660.5 L1313 662 1232 661.2 1200.5 658.5 1117.5 652.7 1068 650.9 1024 649.6 928 649.3 Z" fill="#e9e8f4" stroke="none" />
<path d="M970 649.1 976.5 648.7 981.5 648.1 986.5 647 990.5 645.8 994.5 643.9 998 641.8 1001.5 639 1005 635.5 1008 631.9 1011 627.7 1014 622.9 1017 617.4 1022 607.3 1034.5 579.8 1037.5 573.9 1040.5 568.6 1043.5 564.3 1046.5 561.2 1048 560 1049.5 559.2 1051 558.8 1052.5 558.6 1054 558.8 1055.5 559.4 1057 560.3 1058.5 561.5 1061.5 564.9 1064.5 569.4 1067.5 574.8 1070.5 580.9 1082.5 608 1088 619.5 1091 625 1094 630 1097 634.3 1100 638 1103 641.2 1106.5 644.2 1110 646.5 1114 648.6 1118.5 650.3 1123 651.6 1128.5 652.7 1135 653.6 L1135 653.9 1114.5 652.5 1026.5 649.6 970 649.4 Z" fill="#dccad9" stroke="none" />
<path d="M1029.5 649.4 1037 649.1 1043 648.4 1048 647.2 1052.5 645.5 1056.5 643.2 1060.5 640 1064 636.2 1067.5 631.5 1070.5 626.7 1073.5 620.9 1076.5 614.3 1080 605.6 1086 588.2 1098.5 548.6 1101.5 540 1104.5 532.4 1108 525.2 1111 520.8 1112.5 519.3 1114 518.2 1115.5 517.6 1117 517.5 1118.5 517.9 1120 518.8 1121.5 520.1 1123 522 1126 526.9 1129 533.5 1132 541.3 1135 550.2 1147.5 591.1 1153.5 609.1 1157 618.3 1160 625.2 1163 631.3 1166 636.6 1169.5 641.6 1173 645.7 1177 649.4 1181 652.1 1185.5 654.3 1190.5 656 1196.5 657.4 1204 658.5 L1204 658.8 1116 652.6 1029.5 649.7 Z" fill="url(#gpf)" stroke="none" />
<path d="M1107 652 1116.5 651.6 1123 650.7 1126 650 1128.5 649.1 1133 646.8 1135.5 645 1137.5 643.3 1140 640.6 1142 638.1 1146 631.9 1149.5 624.9 1153 616.3 1156 607.7 1159.5 595.9 1163 582.6 1169 556.3 1182 493.9 1185.5 478.9 1188.5 467.7 1192 457.1 1193.5 453.5 1195 450.5 1196.5 448.2 1198 446.5 1199.5 445.6 1201 445.3 1202.5 445.8 1204 447 1205.5 448.9 1207 451.4 1208.5 454.7 1210 458.5 1213.5 469.7 1216.5 481.4 1219.5 494.6 1232.5 558.8 1239 588 1242.5 601.7 1246 613.7 1249 622.6 1252.5 631.4 1256 638.7 1260 645.2 1262 647.9 1264.5 650.7 1266.5 652.6 1269 654.6 1271.5 656.2 1274 657.5 1276.5 658.5 1279.5 659.4 1286.5 660.8 1295 661.5 L1295 661.8 1232 661.2 1200 658.5 1118 652.7 1107 652.3 Z" fill="#fbdcfb" stroke="none" />
<path d="M1029.5 649.4 1035 649.3 1039.5 648.9 1043.5 648.3 1047.5 647.4 1051 646.2 1054 644.7 1057 642.8 1060 640.4 1063 637.4 1065.5 634.4 1068 630.8 1070.5 626.7 1073 621.9 1075.5 616.6 1080.5 604.2 1081 604.7 1088 619.5 1093 628.4 1095.5 632.2 1098.5 636.2 1101 639.1 1104 642.1 1107 644.5 1110 646.5 1113 648.1 1117 649.8 1121 651.1 1125 652.1 1135 653.6 L1135 653.9 1114.5 652.5 1029.5 649.7 Z" fill="#cfcaf0" stroke="none" />
<path d="M1107 652 1112.5 651.8 1118 651.4 1121.5 651 1124.5 650.4 1127.5 649.5 1130.5 648.2 1133.5 646.5 1136 644.6 1138.5 642.3 1141 639.4 1143.5 636 1145.5 632.8 1148 628.1 1150 623.8 1152.5 617.7 1154.5 612.2 1160 625.2 1164.5 634 1167 638.1 1169.5 641.6 1172 644.7 1174.5 647.2 1177 649.4 1180 651.5 1183 653.2 1186.5 654.7 1190 655.9 1194 656.9 1204 658.5 L1204 658.8 1118 652.7 1107 652.3 Z" fill="#f8c7d9" stroke="none" />
<path d="M1107 652 1113.5 651.8 1121 651.1 1127 652.5 1135 653.6 L1135 653.9 1117 652.7 1107 652.3 Z" fill="#e6d0f0" stroke="none" />
<path d="M928 649.3 1024.5 649.6 1094.5 651.8 1109 651.9 1118.5 651.4 1124.5 650.4 1127.5 649.5 1130 648.4 1132.5 647.1 1135 645.4 1138 642.8 1140.5 640.1 1143.5 636 1146 631.9 1148.5 627.1 1151 621.4 1155.5 609.2 1158 601.2 1160.5 592.3 1165.5 572.1 1170 551.6 1181.5 496.2 1184.5 483 1187.5 471.3 1191 459.8 1193 454.6 1194.5 451.4 1196.5 448.2 1198 446.5 1199.5 445.6 1201 445.3 1202.5 445.8 1204 447 1205.5 448.9 1207 451.4 1208.5 454.7 1210 458.5 1213 467.9 1216 479.3 1219.5 494.6 1233 561.2 1236.5 577.3 1240 592.1 1244 607 1247.5 618.3 1251.5 629.1 1255.5 637.7 1257.5 641.3 1260 645.2 1262 647.9 1264.5 650.7 1267 653 1269.5 654.9 1272 656.5 1275 657.9 1278 659 1281 659.8 1288.5 661 1298 661.6 1313 662" fill="none" stroke="#e0c0f0" stroke-width="3.8" stroke-linejoin="round" stroke-linecap="round" />
<path d="M928 649.3 963.5 649.3 971.5 649 978 648.6 984 647.6 989.5 646.1 994 644.2 998.5 641.4 1002.5 638.1 1006.5 633.8 1010.5 628.4 1014.5 622 1017.5 616.5 1021 609.4 1035 578.8 1038 572.9 1041 567.9 1044 563.7 1047 560.7 1048.5 559.7 1050 559 1052.5 558.6 1054 558.8 1055.5 559.4 1057 560.3 1058.5 561.5 1061.5 564.9 1065 570.2 1068 575.8 1071 582 1082 606.9 1086.5 616.5 1091 625 1095.5 632.2 1100 638 1102.5 640.7 1105 643 1107.5 644.9 1110 646.5 1112.5 647.9 1115.5 649.2 1120 650.8 1124.5 652 1130 652.9 1137 653.8 1150 654.9 1201.5 658.6 1231 661.1 1313 662" fill="none" stroke="#ccbccc" stroke-width="3.8" stroke-linejoin="round" stroke-linecap="round" />
<path d="M928 649.3 1011.5 649.5 1034.5 649.3 1041.5 648.7 1047.5 647.4 1052.5 645.5 1057 642.8 1059.5 640.9 1061.5 639 1064 636.2 1066 633.7 1070 627.5 1074 619.9 1078 610.7 1082.5 598.7 1087 585.1 1098 550.1 1101 541.3 1104 533.6 1107.5 526.1 1110.5 521.4 1112 519.7 1113.5 518.5 1115 517.7 1116.5 517.5 1118 517.7 1119.5 518.4 1121 519.6 1123 522 1126 526.9 1129.5 534.7 1132.5 542.7 1135.5 551.7 1146.5 587.9 1151 602 1155.5 614.5 1160 625.2 1164 633.2 1168.5 640.3 1170.5 642.9 1173 645.7 1175.5 648.1 1178 650.1 1181.5 652.4 1185 654.1 1189 655.6 1194 656.9 1199 657.8 1207 658.8 1228.5 660.9 1234 661.2 1313 662" fill="none" stroke="#f4abbb" stroke-width="3.8" stroke-linejoin="round" stroke-linecap="round" />
<path d="M928 650.5 1024 650.8 1068 652.1 1117.5 653.9 1200.5 659.7 1232 662.4 1313 663.2" fill="none" stroke="#dcd0ae" stroke-width="3.6" stroke-linejoin="round" stroke-linecap="round" />
<path d="M928 648 965.5 645.1 967.5 644.8 985 640.4 1002.5 630.3 1004.5 628 1013 615.9 1015 612.5 1024.5 593.8 1034.5 568.6 1041 556.2 1043 553.3 1050 545.7 1051 545 1056 542.5 1058 541.7 1067.5 538.4 1079 536.2 1080 535.9 1081 535.4 1088 529.4 1095.5 520.1 1097.5 517.9 1107.5 508.7 1108.5 507.9 1109.5 507.5 1115.5 506.3 1117 506.4 1118 507 1126 514 1127 515.3 1128 517.2 1136 535 1142 547.9 1143.5 550.5 1152 560.9 1153 561.8 1154.5 562.5 1158 563.2 1159 563 1159.5 562.6 1160.5 561.1 1165 552.7 1169 540.5 1173 525.7 1184 479.5 1187 468.5 1190 458.9 1193 451.3 1195.5 446.7 1197 444.8 1198 443.8 1199.5 443 1200.5 442.8 1202 443.2 1203.5 444.2 1205 445.9 1206.5 448.3 1208 451.3 1209.5 455 1213 465.8 1216 477.2 1219 490.2 1233 558.9 1236.5 574.7 1239.5 587.2 1243.5 602 1247 613.1 1250.5 622.4 1254.5 631.2 1257 635.7 1259.5 639.6 1262 642.9 1264.5 645.8 1267 648.2 1270 650.7 1273 652.8 1276.5 654.7 1279.5 656.1 1283 657.3 1286.5 658.1 1290.5 658.8 1299.5 659.6 1313 660" fill="none" stroke="#f6eef6" stroke-width="1.5" stroke-linejoin="round" stroke-linecap="round" />
<path d="M928 647.2 965.5 644.3 967.5 644 985 639.6 1002.5 629.5 1004.5 627.2 1013 615.1 1015 611.7 1024.5 593 1034.5 567.8 1041 555.4 1043 552.5 1050 544.9 1051 544.2 1056 541.7 1058 540.9 1067.5 537.6 1079 535.4 1080 535.1 1081 534.6 1088 528.6 1095.5 519.3 1097.5 517.1 1107.5 507.9 1108.5 507.1 1109.5 506.7 1115.5 505.5 1117 505.6 1118 506.2 1126 513.2 1127 514.5 1128 516.4 1136 534.2 1142 547.1 1143.5 549.7 1152 560.1 1153 561 1154.5 561.7 1158 562.4 1159 562.2 1159.5 561.8 1160.5 560.3 1165 551.9 1169 539.7 1173 524.9 1184 478.7 1187 467.7 1190 458.1 1193 450.5 1195.5 445.9 1197 444 1198 443 1199.5 442.2 1200.5 442 1202 442.4 1203.5 443.4 1205 445.1 1206.5 447.5 1208 450.5 1209.5 454.2 1213 465 1216 476.4 1219 489.4 1233 558.1 1236.5 573.9 1239.5 586.4 1243.5 601.2 1247 612.3 1250.5 621.6 1254.5 630.4 1257 634.9 1259.5 638.8 1262 642.1 1264.5 645 1267 647.4 1270 649.9 1273 652 1276.5 653.9 1279.5 655.3 1283 656.5 1286.5 657.3 1290.5 658 1299.5 658.8 1313 659.2" fill="none" stroke="#cadff5" stroke-width="2.9" stroke-linecap="round" stroke-dasharray="0 5.6"/>
<path d="M57 543 63 544.5 84 547.1 99.5 544 101 543.4 114.5 534 125 527.6 126.5 527 133 527.6 140 531.3 141.5 532.3 153.5 541.9 154.5 542.5 173.5 546.3 174.5 546.2 181.5 539.3 194.5 523.7 202 517.4 203 516.2 217 494 223 483.2 223.5 482.8 229.5 480.2 230 480.2 230.5 480.3 235.5 483.7 236.5 485.5 240 496.2 245 515.8 251.5 539.4 257.5 555.1 258.5 556.5 261 559.1 261.5 559.5 262 559.7 262.5 559.7 270.5 555.6 280.5 549.6 281.5 549.2 292 549.2 293 549.8 301 555.9 317 571.9 324 576.8 324.5 577.1 325 577 325.5 576.7 337 563.7 338 561.9 345 544.9 353 523 365.5 488.4 372.5 466.8 378.5 452.9 379.5 451.8 384.5 449.3 385 450 386 454.9 392 495 398 543.1 404 602.8 410 642.7 411 646.4 416 653.8 416.5 654.2 423 656.5 429 658 L429 662.1 424.5 661.7 413 660.1 411 659.7 408 658.6 396 653.1 393.5 651.6 391.5 650.1 362 626.7 359 624.9 346.5 619.3 342.5 618.1 310.5 611.6 280 603.1 264 598.1 260 596.6 246.5 590.7 228.5 581.4 215 575.7 210.5 574 180 564.5 154.5 558.1 100 552.2 62.5 546.7 57 545.3 Z" fill="#f7f5fd" stroke="none" />
<path d="M103.5 552.3 107.5 552.2 111 551.6 114 550.5 117 548.7 119.5 546.6 122.5 543.2 130.5 531.9 133.5 528.2 135.5 526.4 137 525.5 138.5 525 140 525.1 141.5 525.6 143 526.5 144.5 527.8 146.5 530.2 150 535.3 158.5 549 161 552.4 163.5 555.2 166.5 557.9 169.5 560 173 561.8 177.5 563.5 L177.5 563.9 156.5 558.5 153 557.8 103.5 552.6 Z" fill="#d6f1de" stroke="none" />
<path d="M158.5 558.7 164.5 559.5 169 559.3 171 558.8 173 558.1 175 557.1 177 555.6 180.5 552.2 184 547.6 187 542.8 194 530.6 197.5 525.6 199.5 523.5 201.5 522.2 203.5 521.8 205 522.1 206.5 522.9 208.5 524.8 210.5 527.4 212.5 530.8 215.5 537.1 223 555.2 226.5 563.1 230.5 570.9 234 576.7 238 582 242.5 586.6 247 590 252.5 593.1 L252.5 593.4 245 590 229.5 581.8 213 574.9 180.5 564.7 158.5 559 Z" fill="#dcdce8" stroke="none" />
<path d="M182 564.8 186 565.6 189 566 192 565.9 194.5 565.5 197 564.5 199 563.3 201 561.5 203 559.2 205 556.4 206.5 553.8 210 546.4 213.5 537.4 221 516.6 224.5 508.6 226.5 505.2 228 503.4 229 502.6 230 502.2 231.5 502.3 233.5 503.6 236 506.6 238 510.1 240.5 515.5 244.5 526.4 254 555.8 258 567.4 262 577.3 266 585.2 268.5 589.2 271 592.6 274 596 277 598.7 280 600.8 283.5 602.8 287.5 604.5 292 606.2 L292 606.5 278 602.5 262 597.4 246 590.5 229 581.6 215 575.7 210.5 574 182 565.1 Z" fill="#f9daf7" stroke="none" />
<path d="M216 575.8 225 578.8 233 580.9 236 581.6 239.5 581.9 242.5 581.8 245 581.4 247.5 580.6 250.5 579.2 253.5 577.2 256.5 574.8 259.5 572 263.5 567.6 274 554.5 277 551.3 280 548.6 283 546.5 286 545.4 287.5 545.2 289 545.2 292 546 295 547.6 298 550 301 553 304 556.6 309 563.8 321 582.6 326 590.1 331.5 597.6 336.5 603.5 340.5 607.5 350 616 354.5 619.6 361.5 624.7 376.5 637.8 L376.5 638.1 363.5 627.7 361 626 358.5 624.7 346 619.1 342.5 618.1 310.5 611.6 280 603.1 264 598.1 260 596.6 247.5 591.2 230 582.1 216 576.1 Z" fill="#dfe3c9" stroke="none" />
<path d="M297.5 607.7 302.5 608.7 306.5 609.1 309.5 609.1 312.5 608.6 315.5 607.5 318.5 605.6 321 603.5 323.5 600.7 326 597.1 328 593.8 330 589.9 332.5 584.3 337 572.5 345.5 547.8 348 541.5 350.5 536.1 353 531.8 355.5 528.9 357 527.9 358 527.6 359 527.6 360 527.9 361.5 529.1 363.5 532.2 365.5 537 368 544.7 372 560.2 380 595.6 383.5 609.9 388 625.8 392 637 394 641.4 396 645.1 398.5 648.7 401.5 652.1 405 655.3 408.5 657.8 411.5 659.3 414.5 660 L414.5 660.3 411.5 659.8 409 659 396.5 653.3 394.5 652.2 391.5 650.1 362.5 627 359 624.9 347.5 619.8 345 618.8 342.5 618.1 312 612 297.5 608 Z" fill="#d3e3cc" stroke="none" />
<path d="M339 617.1 344 617.3 347.5 617.1 349.5 616.5 351.5 615.3 353.5 613.3 355.5 610.2 357.5 605.8 359 601.5 361 594.5 362.5 588.2 365.5 573.1 368.5 554.5 375 509.9 378 492.8 379.5 486.4 381 481.8 382.5 479.2 383.5 478.7 384 478.8 384.5 479.2 385.5 480.6 387 484.6 388.5 490.5 390.5 501.2 393.5 521.9 400.5 577.3 403.5 599.1 407 620.4 410 634.5 411.5 640 413.5 645.9 415.5 650.4 417.5 653.8 420 656.9 422.5 659 425.5 660.6 429 661.6 L429 662.1 424.5 661.7 413 660.1 411 659.7 408 658.6 396.5 653.3 394.5 652.2 392 650.5 364 628.1 361 626 358.5 624.7 346 619.1 343 618.2 339 617.4 Z" fill="#f5d3c5" stroke="none" />
<path d="M182 564.8 188 565.9 190.5 566 193 565.8 195 565.3 197 564.5 199 563.3 200.5 562 202.5 559.9 204 557.9 207 552.8 210 546.4 214.5 534.9 226 562 230 570 233.5 575.9 237.5 581.4 242 586.1 246.5 589.7 252.5 593.1 L252.5 593.4 245 590 229.5 581.8 214.5 575.5 210.5 574 182 565.1 Z" fill="#d8edd9" stroke="none" />
<path d="M216 575.8 224.5 578.7 233.5 581.1 238 581.8 242.5 581.8 244.5 581.5 246.5 581 250.5 579.2 255 576.1 259.5 572 260 572.6 263.5 580.5 266.5 586.1 270 591.3 273.5 595.5 277 598.7 281 601.4 286 603.9 292 606.2 L292 606.5 277.5 602.4 261 597 246 590.5 229.5 581.8 216 576.1 Z" fill="#ecdde0" stroke="none" />
<path d="M297.5 607.7 303.5 608.8 308 609.1 311.5 608.8 315 607.7 318.5 605.6 321.5 603 325 598.6 328 593.8 328.5 593.6 334.5 601.2 340.5 607.5 350.5 616.4 354.5 619.6 361.5 624.7 376.5 637.8 L376.5 638.1 363.5 627.7 361 626 358.5 624.7 346 619.1 342 618 312.5 612.1 297.5 608 Z" fill="#dfe6d2" stroke="none" />
<path d="M339 617.1 341.5 617.3 346 617.3 348 617 350 616.3 352 614.9 353.5 613.3 355 611.1 356.5 608.2 358 604.4 359.5 599.9 362.5 588.2 365.5 573.1 369 551.2 369.5 550.1 372.5 562.3 380 595.6 383.5 609.9 388 625.8 392 637 394 641.4 396 645.1 398.5 648.7 401.5 652.1 405 655.3 408.5 657.8 411.5 659.3 414.5 660 L414.5 660.3 411.5 659.8 408.5 658.8 396.5 653.3 394 651.9 391.5 650.1 363.5 627.7 360.5 625.7 346 619.1 343 618.2 339 617.4 Z" fill="#e2ecd6" stroke="none" />
<path d="M57 545.3 62.5 546.7 100 552.2 154.5 558.1 180 564.5 210.5 574 215 575.7 228.5 581.4 246.5 590.7 260 596.6 264 598.1 280 603.1 310.5 611.6 342.5 618.1 346.5 619.3 359 624.9 362 626.7 391.5 650.1 393.5 651.6 396 653.1 408 658.6 411 659.7 413 660.1 424.5 661.7 429 662.1" fill="none" stroke="#b9b9e2" stroke-width="3.8" stroke-linejoin="round" stroke-linecap="round" />
<path d="M90 550.7 99.5 552 105.5 552.3 108 552.1 110.5 551.7 112.5 551.1 114.5 550.2 118 547.9 121.5 544.4 124.5 540.6 131 531.2 134 527.7 135.5 526.4 137 525.5 138.5 525 140 525.1 141.5 525.6 143 526.5 144.5 527.8 146.5 530.2 150 535.3 158.5 549 161.5 553 164 555.7 167 558.3 170.5 560.6 174.5 562.5 180 564.4" fill="none" stroke="#9fd8f0" stroke-width="4.1" stroke-linejoin="round" stroke-linecap="round" />
<path d="M150 557.4 154 557.9 162 559.2 166.5 559.5 169 559.3 171.5 558.7 173.5 557.9 175.5 556.7 177.5 555.2 179.5 553.3 183.5 548.3 187 542.8 194 530.6 197.5 525.6 199.5 523.5 201.5 522.2 203.5 521.8 205 522.1 206.5 522.9 208.5 524.8 210.5 527.4 212.5 530.8 216 538.3 225.5 560.9 228.5 567.1 231.5 572.6 234 576.7 236.5 580.2 239 583.1 242 586.1 245.5 589 249 591.2 255 594.3 262 597.4 278.5 602.7 300 608.7" fill="none" stroke="#f2bdd5" stroke-width="4.1" stroke-linejoin="round" stroke-linecap="round" />
<path d="M185 566.1 210.5 574 215 575.7 230 582.1 247.5 591.2 260 596.6 264 598.1 280 603.1 297.5 607.7 302 608.6 306 609 309.5 609.1 312 608.7 314 608.1 316 607.2 318 606 320 604.4 323.5 600.7 327 595.5 330.5 588.8 334 580.6 337.5 571.1 345.5 547.8 347.5 542.7 350 537.1 352.5 532.5 355 529.3 356.5 528.2 357.5 527.7 358.5 527.5 359.5 527.7 360.5 528.2 361.5 529.1 363.5 532.2 365.5 537 367.5 543 371.5 558.1 380.5 597.7 385 615.6 387.5 624.2 390 631.7 392.5 638.2 394.5 642.4 397.5 647.3 401 651.6 405 655.3 409 658.1 412 659.4 415 660.1 424.5 661.7 429 662.1" fill="none" stroke="#8b8fcc" stroke-width="4.1" stroke-linejoin="round" stroke-linecap="round" />
<path d="M57 545.3 62.5 546.7 100 552.2 153 557.8 156.5 558.5 173.5 562.8 185 565.5 190 566 192 565.9 194 565.6 197 564.5 200 562.5 203 559.2 205.5 555.5 208 550.8 211 543.9 220.5 517.9 224 509.6 226 505.9 228 503.4 229 502.6 230 502.2 231.5 502.3 233.5 503.6 236 506.6 238 510.1 240.5 515.5 245 527.9 256.5 563.2 260 572.6 263 579.5 266 585.2 269.5 590.7 273 595 277 598.7 280.5 601.1 285 603.5 290.5 605.7 298 608.1 312 612 342.5 618.1 347 619.5 359 624.9 362 626.7 391.5 650.1 393.5 651.6 396 653.1 408 658.6 411 659.7 413 660.1 424.5 661.7 429 662.1" fill="none" stroke="#b5b5e1" stroke-width="4.1" stroke-linejoin="round" stroke-linecap="round" />
<path d="M238 581.8 242 581.9 245.5 581.3 248.5 580.2 252 578.2 256 575.2 260.5 571 264 566.9 274 554.5 277 551.3 280 548.6 283 546.5 286 545.4 287.5 545.2 289 545.2 292 546 295 547.6 298 550 301 553 304 556.6 309 563.8 321 582.6 326 590.1 331 597 336 602.9 340 607 350 616 354.5 619.6 361.5 624.7 372 634" fill="none" stroke="#ebcf3e" stroke-width="4.1" stroke-linejoin="round" stroke-linecap="round" />
<path d="M340 617.2 344.5 617.3 347.5 617.1 349.5 616.5 351.5 615.3 353.5 613.3 355.5 610.2 357.5 605.8 359 601.5 361 594.5 362.5 588.2 365.5 573.1 368.5 554.5 375 509.9 378 492.8 379.5 486.4 381 481.8 382.5 479.2 383.5 478.7 384 478.8 384.5 479.2 385.5 480.6 387 484.6 388.5 490.5 390.5 501.2 393.5 521.9 400.5 577.3 403.5 599.1 407 620.4 410 634.5 411.5 640 413.5 645.9 415.5 650.4 417.5 653.8 420 656.9 422.5 659 425.5 660.6 429 661.6" fill="none" stroke="#f3df4e" stroke-width="4.1" stroke-linejoin="round" stroke-linecap="round" />
<path d="M56.1 543.7a1.9 1.9 0 1 0 3.8 0a1.9 1.9 0 1 0 -3.8 0M58.8 543.4a1.9 1.9 0 1 0 3.8 0a1.9 1.9 0 1 0 -3.8 0M62.5 546.7a1.9 1.9 0 1 0 3.8 0a1.9 1.9 0 1 0 -3.8 0M65.4 545.9a1.9 1.9 0 1 0 3.8 0a1.9 1.9 0 1 0 -3.8 0M66.1 542.9a1.7 1.7 0 1 0 3.4 0a1.7 1.7 0 1 0 -3.4 0M69.0 546.6a1.9 1.9 0 1 0 3.8 0a1.9 1.9 0 1 0 -3.8 0M72.1 543.1a1.9 1.9 0 1 0 3.8 0a1.9 1.9 0 1 0 -3.8 0M74.7 546.0a1.9 1.9 0 1 0 3.8 0a1.9 1.9 0 1 0 -3.8 0M79.0 547.0a1.9 1.9 0 1 0 3.8 0a1.9 1.9 0 1 0 -3.8 0M80.9 546.3a1.9 1.9 0 1 0 3.8 0a1.9 1.9 0 1 0 -3.8 0M85.5 544.2a1.9 1.9 0 1 0 3.8 0a1.9 1.9 0 1 0 -3.8 0M85.8 544.2a1.7 1.7 0 1 0 3.4 0a1.7 1.7 0 1 0 -3.4 0M88.3 547.5a1.9 1.9 0 1 0 3.8 0a1.9 1.9 0 1 0 -3.8 0M88.8 548.0a1.7 1.7 0 1 0 3.4 0a1.7 1.7 0 1 0 -3.4 0M91.6 545.0a1.9 1.9 0 1 0 3.8 0a1.9 1.9 0 1 0 -3.8 0M95.1 542.7a1.9 1.9 0 1 0 3.8 0a1.9 1.9 0 1 0 -3.8 0M99.0 541.4a1.9 1.9 0 1 0 3.8 0a1.9 1.9 0 1 0 -3.8 0M101.5 540.8a1.9 1.9 0 1 0 3.8 0a1.9 1.9 0 1 0 -3.8 0M102.6 538.9a1.7 1.7 0 1 0 3.4 0a1.7 1.7 0 1 0 -3.4 0M104.1 540.7a1.9 1.9 0 1 0 3.8 0a1.9 1.9 0 1 0 -3.8 0M105.2 539.7a1.7 1.7 0 1 0 3.4 0a1.7 1.7 0 1 0 -3.4 0M107.1 540.1a1.9 1.9 0 1 0 3.8 0a1.9 1.9 0 1 0 -3.8 0M109.6 535.4a1.9 1.9 0 1 0 3.8 0a1.9 1.9 0 1 0 -3.8 0M108.2 534.7a1.7 1.7 0 1 0 3.4 0a1.7 1.7 0 1 0 -3.4 0M112.1 535.6a1.9 1.9 0 1 0 3.8 0a1.9 1.9 0 1 0 -3.8 0M114.3 531.3a1.9 1.9 0 1 0 3.8 0a1.9 1.9 0 1 0 -3.8 0M112.6 531.4a1.7 1.7 0 1 0 3.4 0a1.7 1.7 0 1 0 -3.4 0M117.8 532.7a1.9 1.9 0 1 0 3.8 0a1.9 1.9 0 1 0 -3.8 0M120.5 528.5a1.9 1.9 0 1 0 3.8 0a1.9 1.9 0 1 0 -3.8 0M122.8 528.0a1.7 1.7 0 1 0 3.4 0a1.7 1.7 0 1 0 -3.4 0M123.3 527.9a1.9 1.9 0 1 0 3.8 0a1.9 1.9 0 1 0 -3.8 0M126.3 525.5a1.9 1.9 0 1 0 3.8 0a1.9 1.9 0 1 0 -3.8 0M126.0 530.0a1.7 1.7 0 1 0 3.4 0a1.7 1.7 0 1 0 -3.4 0M130.0 527.4a1.9 1.9 0 1 0 3.8 0a1.9 1.9 0 1 0 -3.8 0M129.4 529.9a1.7 1.7 0 1 0 3.4 0a1.7 1.7 0 1 0 -3.4 0M133.0 529.4a1.9 1.9 0 1 0 3.8 0a1.9 1.9 0 1 0 -3.8 0M133.6 524.5a1.7 1.7 0 1 0 3.4 0a1.7 1.7 0 1 0 -3.4 0M134.9 529.6a1.9 1.9 0 1 0 3.8 0a1.9 1.9 0 1 0 -3.8 0M136.3 535.5a1.7 1.7 0 1 0 3.4 0a1.7 1.7 0 1 0 -3.4 0M138.4 530.8a1.9 1.9 0 1 0 3.8 0a1.9 1.9 0 1 0 -3.8 0M141.8 533.6a1.9 1.9 0 1 0 3.8 0a1.9 1.9 0 1 0 -3.8 0M144.4 536.7a1.9 1.9 0 1 0 3.8 0a1.9 1.9 0 1 0 -3.8 0M146.6 538.0a1.9 1.9 0 1 0 3.8 0a1.9 1.9 0 1 0 -3.8 0M149.4 538.8a1.9 1.9 0 1 0 3.8 0a1.9 1.9 0 1 0 -3.8 0M151.9 542.2a1.9 1.9 0 1 0 3.8 0a1.9 1.9 0 1 0 -3.8 0M154.5 540.0a1.9 1.9 0 1 0 3.8 0a1.9 1.9 0 1 0 -3.8 0M155.2 537.8a1.7 1.7 0 1 0 3.4 0a1.7 1.7 0 1 0 -3.4 0M158.2 541.0a1.9 1.9 0 1 0 3.8 0a1.9 1.9 0 1 0 -3.8 0M160.6 545.4a1.9 1.9 0 1 0 3.8 0a1.9 1.9 0 1 0 -3.8 0M159.2 547.3a1.7 1.7 0 1 0 3.4 0a1.7 1.7 0 1 0 -3.4 0M165.0 544.8a1.9 1.9 0 1 0 3.8 0a1.9 1.9 0 1 0 -3.8 0M167.4 544.1a1.9 1.9 0 1 0 3.8 0a1.9 1.9 0 1 0 -3.8 0M170.5 546.1a1.9 1.9 0 1 0 3.8 0a1.9 1.9 0 1 0 -3.8 0M170.1 543.1a1.7 1.7 0 1 0 3.4 0a1.7 1.7 0 1 0 -3.4 0M174.6 544.8a1.9 1.9 0 1 0 3.8 0a1.9 1.9 0 1 0 -3.8 0M176.3 541.6a1.9 1.9 0 1 0 3.8 0a1.9 1.9 0 1 0 -3.8 0M178.4 540.4a1.9 1.9 0 1 0 3.8 0a1.9 1.9 0 1 0 -3.8 0M178.5 537.0a1.7 1.7 0 1 0 3.4 0a1.7 1.7 0 1 0 -3.4 0M180.5 540.2a1.9 1.9 0 1 0 3.8 0a1.9 1.9 0 1 0 -3.8 0M182.5 535.6a1.9 1.9 0 1 0 3.8 0a1.9 1.9 0 1 0 -3.8 0M181.4 534.6a1.7 1.7 0 1 0 3.4 0a1.7 1.7 0 1 0 -3.4 0M184.8 530.0a1.9 1.9 0 1 0 3.8 0a1.9 1.9 0 1 0 -3.8 0M185.3 532.8a1.7 1.7 0 1 0 3.4 0a1.7 1.7 0 1 0 -3.4 0M186.9 530.7a1.9 1.9 0 1 0 3.8 0a1.9 1.9 0 1 0 -3.8 0M187.3 527.4a1.7 1.7 0 1 0 3.4 0a1.7 1.7 0 1 0 -3.4 0M188.8 529.5a1.9 1.9 0 1 0 3.8 0a1.9 1.9 0 1 0 -3.8 0M191.6 524.9a1.9 1.9 0 1 0 3.8 0a1.9 1.9 0 1 0 -3.8 0M193.3 523.7a1.9 1.9 0 1 0 3.8 0a1.9 1.9 0 1 0 -3.8 0M193.6 522.9a1.7 1.7 0 1 0 3.4 0a1.7 1.7 0 1 0 -3.4 0M196.7 521.7a1.9 1.9 0 1 0 3.8 0a1.9 1.9 0 1 0 -3.8 0M198.4 516.5a1.9 1.9 0 1 0 3.8 0a1.9 1.9 0 1 0 -3.8 0M200.1 518.3a1.7 1.7 0 1 0 3.4 0a1.7 1.7 0 1 0 -3.4 0M201.5 517.3a1.9 1.9 0 1 0 3.8 0a1.9 1.9 0 1 0 -3.8 0M204.2 513.1a1.5 1.5 0 1 0 3.0 0a1.5 1.5 0 1 0 -3.0 0M205.8 508.7a1.5 1.5 0 1 0 3.0 0a1.5 1.5 0 1 0 -3.0 0M210.2 504.3a1.5 1.5 0 1 0 3.0 0a1.5 1.5 0 1 0 -3.0 0M210.7 499.9a1.5 1.5 0 1 0 3.0 0a1.5 1.5 0 1 0 -3.0 0M215.2 495.5a1.5 1.5 0 1 0 3.0 0a1.5 1.5 0 1 0 -3.0 0M217.7 490.7a1.5 1.5 0 1 0 3.0 0a1.5 1.5 0 1 0 -3.0 0M220.5 486.2a1.5 1.5 0 1 0 3.0 0a1.5 1.5 0 1 0 -3.0 0M222.8 484.9a1.9 1.9 0 1 0 3.8 0a1.9 1.9 0 1 0 -3.8 0M219.9 484.6a1.7 1.7 0 1 0 3.4 0a1.7 1.7 0 1 0 -3.4 0M224.3 481.4a1.9 1.9 0 1 0 3.8 0a1.9 1.9 0 1 0 -3.8 0M227.0 477.0a1.9 1.9 0 1 0 3.8 0a1.9 1.9 0 1 0 -3.8 0M231.1 481.6a1.9 1.9 0 1 0 3.8 0a1.9 1.9 0 1 0 -3.8 0M233.3 481.6a1.9 1.9 0 1 0 3.8 0a1.9 1.9 0 1 0 -3.8 0M235.4 489.0a1.5 1.5 0 1 0 3.0 0a1.5 1.5 0 1 0 -3.0 0M236.5 493.9a1.5 1.5 0 1 0 3.0 0a1.5 1.5 0 1 0 -3.0 0M239.8 499.6a1.5 1.5 0 1 0 3.0 0a1.5 1.5 0 1 0 -3.0 0M240.6 504.7a1.5 1.5 0 1 0 3.0 0a1.5 1.5 0 1 0 -3.0 0M242.3 509.7a1.5 1.5 0 1 0 3.0 0a1.5 1.5 0 1 0 -3.0 0M242.4 514.7a1.5 1.5 0 1 0 3.0 0a1.5 1.5 0 1 0 -3.0 0M244.0 519.6a1.5 1.5 0 1 0 3.0 0a1.5 1.5 0 1 0 -3.0 0M245.1 524.6a1.5 1.5 0 1 0 3.0 0a1.5 1.5 0 1 0 -3.0 0M246.5 529.6a1.5 1.5 0 1 0 3.0 0a1.5 1.5 0 1 0 -3.0 0M248.7 534.7a1.5 1.5 0 1 0 3.0 0a1.5 1.5 0 1 0 -3.0 0M249.3 539.3a1.5 1.5 0 1 0 3.0 0a1.5 1.5 0 1 0 -3.0 0M251.9 543.8a1.5 1.5 0 1 0 3.0 0a1.5 1.5 0 1 0 -3.0 0M253.7 548.7a1.5 1.5 0 1 0 3.0 0a1.5 1.5 0 1 0 -3.0 0M256.9 553.5a1.5 1.5 0 1 0 3.0 0a1.5 1.5 0 1 0 -3.0 0M256.1 558.1a1.9 1.9 0 1 0 3.8 0a1.9 1.9 0 1 0 -3.8 0M257.0 553.3a1.7 1.7 0 1 0 3.4 0a1.7 1.7 0 1 0 -3.4 0M258.9 560.2a1.9 1.9 0 1 0 3.8 0a1.9 1.9 0 1 0 -3.8 0M259.4 558.4a1.7 1.7 0 1 0 3.4 0a1.7 1.7 0 1 0 -3.4 0M262.1 559.2a1.9 1.9 0 1 0 3.8 0a1.9 1.9 0 1 0 -3.8 0M260.8 554.5a1.7 1.7 0 1 0 3.4 0a1.7 1.7 0 1 0 -3.4 0M262.8 556.9a1.9 1.9 0 1 0 3.8 0a1.9 1.9 0 1 0 -3.8 0M264.7 554.9a1.7 1.7 0 1 0 3.4 0a1.7 1.7 0 1 0 -3.4 0M266.9 557.9a1.9 1.9 0 1 0 3.8 0a1.9 1.9 0 1 0 -3.8 0M270.3 554.5a1.9 1.9 0 1 0 3.8 0a1.9 1.9 0 1 0 -3.8 0M271.6 555.9a1.7 1.7 0 1 0 3.4 0a1.7 1.7 0 1 0 -3.4 0M273.2 551.3a1.9 1.9 0 1 0 3.8 0a1.9 1.9 0 1 0 -3.8 0M275.6 552.8a1.9 1.9 0 1 0 3.8 0a1.9 1.9 0 1 0 -3.8 0M276.0 551.2a1.7 1.7 0 1 0 3.4 0a1.7 1.7 0 1 0 -3.4 0M278.1 552.1a1.9 1.9 0 1 0 3.8 0a1.9 1.9 0 1 0 -3.8 0M281.5 550.3a1.9 1.9 0 1 0 3.8 0a1.9 1.9 0 1 0 -3.8 0M283.7 549.5a1.9 1.9 0 1 0 3.8 0a1.9 1.9 0 1 0 -3.8 0M288.4 547.5a1.9 1.9 0 1 0 3.8 0a1.9 1.9 0 1 0 -3.8 0M288.3 552.0a1.7 1.7 0 1 0 3.4 0a1.7 1.7 0 1 0 -3.4 0M291.8 550.2a1.9 1.9 0 1 0 3.8 0a1.9 1.9 0 1 0 -3.8 0M291.1 549.2a1.7 1.7 0 1 0 3.4 0a1.7 1.7 0 1 0 -3.4 0M293.4 554.5a1.9 1.9 0 1 0 3.8 0a1.9 1.9 0 1 0 -3.8 0M297.4 555.2a1.9 1.9 0 1 0 3.8 0a1.9 1.9 0 1 0 -3.8 0M297.4 553.6a1.7 1.7 0 1 0 3.4 0a1.7 1.7 0 1 0 -3.4 0M299.4 556.4a1.9 1.9 0 1 0 3.8 0a1.9 1.9 0 1 0 -3.8 0M302.2 558.6a1.9 1.9 0 1 0 3.8 0a1.9 1.9 0 1 0 -3.8 0M301.3 562.5a1.7 1.7 0 1 0 3.4 0a1.7 1.7 0 1 0 -3.4 0M304.5 561.1a1.9 1.9 0 1 0 3.8 0a1.9 1.9 0 1 0 -3.8 0M306.0 563.3a1.9 1.9 0 1 0 3.8 0a1.9 1.9 0 1 0 -3.8 0M308.7 565.4a1.9 1.9 0 1 0 3.8 0a1.9 1.9 0 1 0 -3.8 0M309.2 561.9a1.7 1.7 0 1 0 3.4 0a1.7 1.7 0 1 0 -3.4 0M311.1 566.8a1.9 1.9 0 1 0 3.8 0a1.9 1.9 0 1 0 -3.8 0M313.1 571.3a1.9 1.9 0 1 0 3.8 0a1.9 1.9 0 1 0 -3.8 0M315.7 571.6a1.9 1.9 0 1 0 3.8 0a1.9 1.9 0 1 0 -3.8 0M316.0 570.1a1.7 1.7 0 1 0 3.4 0a1.7 1.7 0 1 0 -3.4 0M318.8 577.4a1.9 1.9 0 1 0 3.8 0a1.9 1.9 0 1 0 -3.8 0M321.2 574.6a1.9 1.9 0 1 0 3.8 0a1.9 1.9 0 1 0 -3.8 0M319.8 573.6a1.7 1.7 0 1 0 3.4 0a1.7 1.7 0 1 0 -3.4 0M324.6 574.9a1.9 1.9 0 1 0 3.8 0a1.9 1.9 0 1 0 -3.8 0M326.2 576.9a1.7 1.7 0 1 0 3.4 0a1.7 1.7 0 1 0 -3.4 0M326.5 576.7a1.9 1.9 0 1 0 3.8 0a1.9 1.9 0 1 0 -3.8 0M325.7 570.5a1.7 1.7 0 1 0 3.4 0a1.7 1.7 0 1 0 -3.4 0M328.4 573.5a1.9 1.9 0 1 0 3.8 0a1.9 1.9 0 1 0 -3.8 0M327.4 569.2a1.7 1.7 0 1 0 3.4 0a1.7 1.7 0 1 0 -3.4 0M330.3 569.2a1.9 1.9 0 1 0 3.8 0a1.9 1.9 0 1 0 -3.8 0M331.1 569.5a1.7 1.7 0 1 0 3.4 0a1.7 1.7 0 1 0 -3.4 0M332.6 566.3a1.9 1.9 0 1 0 3.8 0a1.9 1.9 0 1 0 -3.8 0M334.9 564.6a1.9 1.9 0 1 0 3.8 0a1.9 1.9 0 1 0 -3.8 0M337.9 559.8a1.5 1.5 0 1 0 3.0 0a1.5 1.5 0 1 0 -3.0 0M339.4 555.0a1.5 1.5 0 1 0 3.0 0a1.5 1.5 0 1 0 -3.0 0M340.0 550.2a1.5 1.5 0 1 0 3.0 0a1.5 1.5 0 1 0 -3.0 0M343.7 545.3a1.5 1.5 0 1 0 3.0 0a1.5 1.5 0 1 0 -3.0 0M343.7 540.2a1.5 1.5 0 1 0 3.0 0a1.5 1.5 0 1 0 -3.0 0M345.9 535.3a1.5 1.5 0 1 0 3.0 0a1.5 1.5 0 1 0 -3.0 0M349.5 530.4a1.5 1.5 0 1 0 3.0 0a1.5 1.5 0 1 0 -3.0 0M351.1 525.5a1.5 1.5 0 1 0 3.0 0a1.5 1.5 0 1 0 -3.0 0M352.2 520.6a1.5 1.5 0 1 0 3.0 0a1.5 1.5 0 1 0 -3.0 0M352.8 515.7a1.5 1.5 0 1 0 3.0 0a1.5 1.5 0 1 0 -3.0 0M355.6 510.8a1.5 1.5 0 1 0 3.0 0a1.5 1.5 0 1 0 -3.0 0M357.1 505.9a1.5 1.5 0 1 0 3.0 0a1.5 1.5 0 1 0 -3.0 0M359.9 501.1a1.5 1.5 0 1 0 3.0 0a1.5 1.5 0 1 0 -3.0 0M363.0 496.2a1.5 1.5 0 1 0 3.0 0a1.5 1.5 0 1 0 -3.0 0M363.1 491.3a1.5 1.5 0 1 0 3.0 0a1.5 1.5 0 1 0 -3.0 0M364.1 486.3a1.5 1.5 0 1 0 3.0 0a1.5 1.5 0 1 0 -3.0 0M365.4 481.1a1.5 1.5 0 1 0 3.0 0a1.5 1.5 0 1 0 -3.0 0M367.9 476.2a1.5 1.5 0 1 0 3.0 0a1.5 1.5 0 1 0 -3.0 0M369.3 471.2a1.5 1.5 0 1 0 3.0 0a1.5 1.5 0 1 0 -3.0 0M370.1 466.7a1.5 1.5 0 1 0 3.0 0a1.5 1.5 0 1 0 -3.0 0M373.1 462.1a1.5 1.5 0 1 0 3.0 0a1.5 1.5 0 1 0 -3.0 0M374.1 457.3a1.5 1.5 0 1 0 3.0 0a1.5 1.5 0 1 0 -3.0 0M377.9 452.8a1.5 1.5 0 1 0 3.0 0a1.5 1.5 0 1 0 -3.0 0M379.9 452.5a1.9 1.9 0 1 0 3.8 0a1.9 1.9 0 1 0 -3.8 0M380.3 450.6a1.7 1.7 0 1 0 3.4 0a1.7 1.7 0 1 0 -3.4 0M382.2 448.9a1.9 1.9 0 1 0 3.8 0a1.9 1.9 0 1 0 -3.8 0M384.6 463.0a1.5 1.5 0 1 0 3.0 0a1.5 1.5 0 1 0 -3.0 0M387.2 468.1a1.5 1.5 0 1 0 3.0 0a1.5 1.5 0 1 0 -3.0 0M387.2 473.3a1.5 1.5 0 1 0 3.0 0a1.5 1.5 0 1 0 -3.0 0M388.3 478.4a1.5 1.5 0 1 0 3.0 0a1.5 1.5 0 1 0 -3.0 0M389.7 483.6a1.5 1.5 0 1 0 3.0 0a1.5 1.5 0 1 0 -3.0 0M388.3 488.8a1.5 1.5 0 1 0 3.0 0a1.5 1.5 0 1 0 -3.0 0M389.8 494.2a1.5 1.5 0 1 0 3.0 0a1.5 1.5 0 1 0 -3.0 0M391.2 499.5a1.5 1.5 0 1 0 3.0 0a1.5 1.5 0 1 0 -3.0 0M392.0 504.7a1.5 1.5 0 1 0 3.0 0a1.5 1.5 0 1 0 -3.0 0M392.1 509.8a1.5 1.5 0 1 0 3.0 0a1.5 1.5 0 1 0 -3.0 0M393.9 515.0a1.5 1.5 0 1 0 3.0 0a1.5 1.5 0 1 0 -3.0 0M393.8 520.1a1.5 1.5 0 1 0 3.0 0a1.5 1.5 0 1 0 -3.0 0M393.4 525.3a1.5 1.5 0 1 0 3.0 0a1.5 1.5 0 1 0 -3.0 0M394.2 530.5a1.5 1.5 0 1 0 3.0 0a1.5 1.5 0 1 0 -3.0 0M396.3 535.7a1.5 1.5 0 1 0 3.0 0a1.5 1.5 0 1 0 -3.0 0M396.6 541.0a1.5 1.5 0 1 0 3.0 0a1.5 1.5 0 1 0 -3.0 0M395.3 546.4a1.5 1.5 0 1 0 3.0 0a1.5 1.5 0 1 0 -3.0 0M398.5 551.7a1.5 1.5 0 1 0 3.0 0a1.5 1.5 0 1 0 -3.0 0M398.4 556.9a1.5 1.5 0 1 0 3.0 0a1.5 1.5 0 1 0 -3.0 0M399.5 562.1a1.5 1.5 0 1 0 3.0 0a1.5 1.5 0 1 0 -3.0 0M398.6 567.3a1.5 1.5 0 1 0 3.0 0a1.5 1.5 0 1 0 -3.0 0M399.2 572.5a1.5 1.5 0 1 0 3.0 0a1.5 1.5 0 1 0 -3.0 0M399.0 577.6a1.5 1.5 0 1 0 3.0 0a1.5 1.5 0 1 0 -3.0 0M402.5 582.8a1.5 1.5 0 1 0 3.0 0a1.5 1.5 0 1 0 -3.0 0M400.8 588.0a1.5 1.5 0 1 0 3.0 0a1.5 1.5 0 1 0 -3.0 0M402.8 593.2a1.5 1.5 0 1 0 3.0 0a1.5 1.5 0 1 0 -3.0 0M401.5 598.3a1.5 1.5 0 1 0 3.0 0a1.5 1.5 0 1 0 -3.0 0M402.7 603.2a1.5 1.5 0 1 0 3.0 0a1.5 1.5 0 1 0 -3.0 0M401.8 607.9a1.5 1.5 0 1 0 3.0 0a1.5 1.5 0 1 0 -3.0 0M403.6 612.7a1.5 1.5 0 1 0 3.0 0a1.5 1.5 0 1 0 -3.0 0M405.5 617.8a1.5 1.5 0 1 0 3.0 0a1.5 1.5 0 1 0 -3.0 0M404.4 622.9a1.5 1.5 0 1 0 3.0 0a1.5 1.5 0 1 0 -3.0 0M407.1 628.1a1.5 1.5 0 1 0 3.0 0a1.5 1.5 0 1 0 -3.0 0M407.3 633.2a1.5 1.5 0 1 0 3.0 0a1.5 1.5 0 1 0 -3.0 0M407.0 638.4a1.5 1.5 0 1 0 3.0 0a1.5 1.5 0 1 0 -3.0 0M408.2 643.2a1.5 1.5 0 1 0 3.0 0a1.5 1.5 0 1 0 -3.0 0M409.3 646.6a1.5 1.5 0 1 0 3.0 0a1.5 1.5 0 1 0 -3.0 0M411.9 650.1a1.5 1.5 0 1 0 3.0 0a1.5 1.5 0 1 0 -3.0 0M414.1 652.8a1.9 1.9 0 1 0 3.8 0a1.9 1.9 0 1 0 -3.8 0M416.6 653.2a1.9 1.9 0 1 0 3.8 0a1.9 1.9 0 1 0 -3.8 0M420.6 653.9a1.9 1.9 0 1 0 3.8 0a1.9 1.9 0 1 0 -3.8 0M422.9 655.6a1.9 1.9 0 1 0 3.8 0a1.9 1.9 0 1 0 -3.8 0M426.2 660.1a1.9 1.9 0 1 0 3.8 0a1.9 1.9 0 1 0 -3.8 0" fill="#8d7b14"/>
<rect x="51" y="12" width="380" height="306" fill="none" stroke="#000" stroke-width="4"/>
<rect x="489" y="11" width="384" height="309" fill="none" stroke="#000" stroke-width="4"/>
<rect x="931" y="5" width="388" height="311" fill="none" stroke="#000" stroke-width="4"/>
<rect x="55" y="413" width="376" height="302" fill="none" stroke="#000" stroke-width="4"/>
<rect x="491" y="408" width="380" height="306" fill="none" stroke="#000" stroke-width="4"/>
<rect x="926" y="396" width="389" height="311" fill="none" stroke="#000" stroke-width="4"/>
<rect x="84.00" y="318" width="4" height="6"/>
<rect x="153.00" y="318" width="4" height="6"/>
<rect x="222.00" y="318" width="4" height="6"/>
<rect x="291.00" y="318" width="4" height="6"/>
<rect x="360.00" y="318" width="4" height="6"/>
<rect x="429.00" y="318" width="4" height="6"/>
<rect x="118.50" y="318" width="4" height="3"/>
<rect x="187.50" y="318" width="4" height="3"/>
<rect x="256.50" y="318" width="4" height="3"/>
<rect x="325.50" y="318" width="4" height="3"/>
<rect x="394.50" y="318" width="4" height="3"/>
<text x="86.0" y="342.5" font-size="19" text-anchor="middle" >1000</text>
<text x="155.0" y="342.5" font-size="19" text-anchor="middle" >800</text>
<text x="224.0" y="342.5" font-size="19" text-anchor="middle" >600</text>
<text x="293.0" y="342.5" font-size="19" text-anchor="middle" >400</text>
<text x="362.0" y="342.5" font-size="19" text-anchor="middle" >200</text>
<text x="431.0" y="342.5" font-size="19" text-anchor="middle" >0</text>
<rect x="531.00" y="320" width="4" height="6"/>
<rect x="592.80" y="320" width="4" height="6"/>
<rect x="654.60" y="320" width="4" height="6"/>
<rect x="716.40" y="320" width="4" height="6"/>
<rect x="778.20" y="320" width="4" height="6"/>
<rect x="840.00" y="320" width="4" height="6"/>
<rect x="500.10" y="320" width="4" height="3"/>
<rect x="561.90" y="320" width="4" height="3"/>
<rect x="623.70" y="320" width="4" height="3"/>
<rect x="685.50" y="320" width="4" height="3"/>
<rect x="747.30" y="320" width="4" height="3"/>
<rect x="809.10" y="320" width="4" height="3"/>
<text x="533.0" y="345.8" font-size="19.5" text-anchor="middle" >1045</text>
<text x="594.8" y="345.8" font-size="19.5" text-anchor="middle" >1040</text>
<text x="656.6" y="345.8" font-size="19.5" text-anchor="middle" >1035</text>
<text x="718.4" y="345.8" font-size="19.5" text-anchor="middle" >1030</text>
<text x="780.2" y="345.8" font-size="19.5" text-anchor="middle" >1025</text>
<text x="842.0" y="345.8" font-size="19.5" text-anchor="middle" >1020</text>
<rect x="950.00" y="316" width="4" height="6"/>
<rect x="1031.30" y="316" width="4" height="6"/>
<rect x="1112.60" y="316" width="4" height="6"/>
<rect x="1193.90" y="316" width="4" height="6"/>
<rect x="1275.20" y="316" width="4" height="6"/>
<rect x="990.65" y="316" width="4" height="3"/>
<rect x="1071.95" y="316" width="4" height="3"/>
<rect x="1153.25" y="316" width="4" height="3"/>
<rect x="1234.55" y="316" width="4" height="3"/>
<text x="952.0" y="341.8" font-size="20" text-anchor="middle" >536</text>
<text x="1033.3" y="341.8" font-size="20" text-anchor="middle" >534</text>
<text x="1114.6" y="341.8" font-size="20" text-anchor="middle" >532</text>
<text x="1195.9" y="341.8" font-size="20" text-anchor="middle" >530</text>
<text x="1277.2" y="341.8" font-size="20" text-anchor="middle" >528</text>
<rect x="59.00" y="715" width="4" height="6"/>
<rect x="114.15" y="715" width="4" height="6"/>
<rect x="169.30" y="715" width="4" height="6"/>
<rect x="224.45" y="715" width="4" height="6"/>
<rect x="279.60" y="715" width="4" height="6"/>
<rect x="334.75" y="715" width="4" height="6"/>
<rect x="389.90" y="715" width="4" height="6"/>
<rect x="86.58" y="715" width="4" height="3"/>
<rect x="141.72" y="715" width="4" height="3"/>
<rect x="196.88" y="715" width="4" height="3"/>
<rect x="252.02" y="715" width="4" height="3"/>
<rect x="307.17" y="715" width="4" height="3"/>
<rect x="362.32" y="715" width="4" height="3"/>
<rect x="417.47" y="715" width="4" height="3"/>
<text x="61.0" y="740" font-size="19.5" text-anchor="middle" >740</text>
<text x="116.15" y="740" font-size="19.5" text-anchor="middle" >735</text>
<text x="171.3" y="740" font-size="19.5" text-anchor="middle" >730</text>
<text x="226.45" y="740" font-size="19.5" text-anchor="middle" >725</text>
<text x="281.6" y="740" font-size="19.5" text-anchor="middle" >720</text>
<text x="336.75" y="740" font-size="19.5" text-anchor="middle" >715</text>
<text x="391.9" y="740" font-size="19.5" text-anchor="middle" >710</text>
<rect x="532.00" y="714" width="4" height="6"/>
<rect x="593.20" y="714" width="4" height="6"/>
<rect x="654.40" y="714" width="4" height="6"/>
<rect x="715.60" y="714" width="4" height="6"/>
<rect x="776.80" y="714" width="4" height="6"/>
<rect x="838.00" y="714" width="4" height="6"/>
<rect x="501.40" y="714" width="4" height="3"/>
<rect x="562.60" y="714" width="4" height="3"/>
<rect x="623.80" y="714" width="4" height="3"/>
<rect x="685.00" y="714" width="4" height="3"/>
<rect x="746.20" y="714" width="4" height="3"/>
<rect x="807.40" y="714" width="4" height="3"/>
<text x="534.0" y="738.7" font-size="19.5" text-anchor="middle" >1045</text>
<text x="595.2" y="738.7" font-size="19.5" text-anchor="middle" >1040</text>
<text x="656.4" y="738.7" font-size="19.5" text-anchor="middle" >1035</text>
<text x="717.6" y="738.7" font-size="19.5" text-anchor="middle" >1030</text>
<text x="778.8" y="738.7" font-size="19.5" text-anchor="middle" >1025</text>
<text x="840.0" y="738.7" font-size="19.5" text-anchor="middle" >1020</text>
<rect x="945.00" y="707" width="4" height="6"/>
<rect x="1026.75" y="707" width="4" height="6"/>
<rect x="1108.50" y="707" width="4" height="6"/>
<rect x="1190.25" y="707" width="4" height="6"/>
<rect x="1272.00" y="707" width="4" height="6"/>
<rect x="985.88" y="707" width="4" height="3"/>
<rect x="1067.62" y="707" width="4" height="3"/>
<rect x="1149.38" y="707" width="4" height="3"/>
<rect x="1231.12" y="707" width="4" height="3"/>
<text x="947.0" y="732.7" font-size="20" text-anchor="middle" >536</text>
<text x="1028.75" y="732.7" font-size="20" text-anchor="middle" >534</text>
<text x="1110.5" y="732.7" font-size="20" text-anchor="middle" >532</text>
<text x="1192.25" y="732.7" font-size="20" text-anchor="middle" >530</text>
<text x="1274.0" y="732.7" font-size="20" text-anchor="middle" >528</text>
<text x="146" y="375.7" font-size="18.5" font-weight="bold" textLength="188.3" lengthAdjust="spacingAndGlyphs" >Bingding Energy (eV)</text>
<text x="585.2" y="378.9" font-size="18.5" font-weight="bold" textLength="190.6" lengthAdjust="spacingAndGlyphs" >Bingding Energy (eV)</text>
<text x="1029.1" y="375.6" font-size="18.5" font-weight="bold" textLength="192.6" lengthAdjust="spacingAndGlyphs" >Bingding Energy (eV)</text>
<text x="149.4" y="771.5" font-size="18.5" font-weight="bold" textLength="186" lengthAdjust="spacingAndGlyphs" >Bingding Energy (eV)</text>
<text x="586.3" y="771.5" font-size="18.5" font-weight="bold" textLength="188" lengthAdjust="spacingAndGlyphs" >Bingding Energy (eV)</text>
<text x="1024.7" y="766.2" font-size="18.5" font-weight="bold" textLength="191.5" lengthAdjust="spacingAndGlyphs" >Bingding Energy (eV)</text>
<text x="26.799999999999997" y="220" font-size="20" font-weight="bold" textLength="126.8" lengthAdjust="spacingAndGlyphs" transform="rotate(-90 26.799999999999997 220)" >Intensity (a.u.)</text>
<text x="462.70000000000005" y="223" font-size="20" font-weight="bold" textLength="127.2" lengthAdjust="spacingAndGlyphs" transform="rotate(-90 462.70000000000005 223)" >Intensity (a.u.)</text>
<text x="904.6" y="217.4" font-size="20" font-weight="bold" textLength="128.2" lengthAdjust="spacingAndGlyphs" transform="rotate(-90 904.6 217.4)" >Intensity (a.u.)</text>
<text x="30.4" y="619.8" font-size="20" font-weight="bold" textLength="125.0" lengthAdjust="spacingAndGlyphs" transform="rotate(-90 30.4 619.8)" >Intensity (a.u.)</text>
<text x="465.5" y="616.5" font-size="20" font-weight="bold" textLength="126.0" lengthAdjust="spacingAndGlyphs" transform="rotate(-90 465.5 616.5)" >Intensity (a.u.)</text>
<text x="900.5" y="607.3" font-size="20" font-weight="bold" textLength="127.1" lengthAdjust="spacingAndGlyphs" transform="rotate(-90 900.5 607.3)" >Intensity (a.u.)</text>
<text x="12.9" y="31" font-size="25" font-weight="bold" textLength="29.2" lengthAdjust="spacingAndGlyphs" >(a)</text>
<text x="444.8" y="34" font-size="25" font-weight="bold" textLength="31.5" lengthAdjust="spacingAndGlyphs" >(b)</text>
<text x="895" y="26" font-size="25" font-weight="bold" textLength="27.1" lengthAdjust="spacingAndGlyphs" >(c)</text>
<text x="13.9" y="432.5" font-size="25" font-weight="bold" textLength="30.1" lengthAdjust="spacingAndGlyphs" >(d)</text>
<text x="447.9" y="430" font-size="25" font-weight="bold" textLength="27.3" lengthAdjust="spacingAndGlyphs" >(e)</text>
<text x="886.9" y="418" font-size="25" font-weight="bold" textLength="25.2" lengthAdjust="spacingAndGlyphs" >(f)</text>
<text x="348" y="33.3" font-size="15.6" textLength="28.7" lengthAdjust="spacingAndGlyphs" >ZnO</text>
<text x="348" y="53.3" font-size="15.6" textLength="71.5" lengthAdjust="spacingAndGlyphs">Fe<tspan font-size="11" dy="3.7">3</tspan><tspan dy="-3.7">O</tspan><tspan font-size="11" dy="3.7">4</tspan><tspan dy="-3.7">/ZnO</tspan></text>
<text x="69.2" y="116.1" font-size="16.8" font-weight="bold" transform="rotate(-90 69.2 116.1)" textLength="53.2" lengthAdjust="spacingAndGlyphs">Zn 2p<tspan font-size="11.8" dy="3.4">1/2</tspan></text>
<text x="92" y="113.4" font-size="16.8" font-weight="bold" transform="rotate(-90 92 113.4)" textLength="53.6" lengthAdjust="spacingAndGlyphs">Zn 2p<tspan font-size="11.8" dy="3.4">3/2</tspan></text>
<text x="128.3" y="134.9" font-size="15.6" font-weight="bold" textLength="50.9" lengthAdjust="spacingAndGlyphs">Fe 2p<tspan font-size="10.6" dy="3.4">1/2</tspan></text>
<text x="184.3" y="137" font-size="15.6" font-weight="bold" textLength="51.1" lengthAdjust="spacingAndGlyphs">Fe 2p<tspan font-size="10.6" dy="3.4">3/2</tspan></text>
<text x="253.7" y="158.7" font-size="15.6" font-weight="bold" textLength="29.8" lengthAdjust="spacingAndGlyphs" >O 1s</text>
<text x="336.4" y="110.8" font-size="15.6" font-weight="bold" textLength="29.1" lengthAdjust="spacingAndGlyphs" >C 1s</text>
<line x1="157" y1="138.9" x2="169.7" y2="146.2" stroke="#000" stroke-width="1.1"/>
<polygon points="175.8,149.7 168.1,149.0 171.3,143.4" fill="#000"/>
<line x1="201.8" y1="139.3" x2="193.5" y2="147.8" stroke="#000" stroke-width="1.1"/>
<polygon points="188.6,152.8 191.2,145.6 195.8,150.0" fill="#000"/>
<text x="817.5" y="34" font-size="19" font-weight="bold" textLength="49.1" lengthAdjust="spacingAndGlyphs" >Zn 2p</text>
<text x="750.5" y="68" font-size="19" font-weight="bold" textLength="49.6" lengthAdjust="spacingAndGlyphs">Zn 2p</text>
<text x="801.8" y="72.8" font-size="15.5" font-weight="bold" textLength="17.5" lengthAdjust="spacingAndGlyphs">3/2</text>
<text x="739.8" y="98.6" font-size="15" font-weight="bold" textLength="72.9" lengthAdjust="spacingAndGlyphs" >1021.39 eV</text>
<text x="499.5" y="160.8" font-size="19" font-weight="bold" textLength="49.9" lengthAdjust="spacingAndGlyphs">Zn 2p</text>
<text x="551.4" y="165.5" font-size="15.5" font-weight="bold" textLength="17.1" lengthAdjust="spacingAndGlyphs">1/2</text>
<text x="550.5" y="194.4" font-size="15" font-weight="bold" textLength="74" lengthAdjust="spacingAndGlyphs" >1044.50 eV</text>
<text x="815.5" y="429.7" font-size="19" font-weight="bold" textLength="48.7" lengthAdjust="spacingAndGlyphs" >Zn 2p</text>
<text x="753.5" y="453.7" font-size="19" font-weight="bold" textLength="48.7" lengthAdjust="spacingAndGlyphs">Zn 2p</text>
<text x="805.2" y="459.4" font-size="15.5" font-weight="bold" textLength="16.3" lengthAdjust="spacingAndGlyphs">3/2</text>
<text x="740.8" y="483.8" font-size="15" font-weight="bold" textLength="72.3" lengthAdjust="spacingAndGlyphs" >1021.27 eV</text>
<text x="501.2" y="552" font-size="19" font-weight="bold" textLength="49.9" lengthAdjust="spacingAndGlyphs">Zn 2p</text>
<text x="553.3" y="557.6" font-size="15.5" font-weight="bold" textLength="16.3" lengthAdjust="spacingAndGlyphs">1/2</text>
<text x="558.9" y="576.6" font-size="15" font-weight="bold" textLength="71.8" lengthAdjust="spacingAndGlyphs" >1044.37 eV</text>
<text x="1272.6" y="33.1" font-size="20" font-weight="bold" textLength="38.9" lengthAdjust="spacingAndGlyphs" >O 1s</text>
<text x="1202.4" y="43.5" font-size="15.4" font-weight="bold" textLength="66.3" lengthAdjust="spacingAndGlyphs" >530.03 eV</text>
<text x="1081.5" y="117.7" font-size="15.4" font-weight="bold" textLength="66" lengthAdjust="spacingAndGlyphs" >531.66 eV</text>
<text x="979.2" y="189.9" font-size="15.4" font-weight="bold" textLength="66.1" lengthAdjust="spacingAndGlyphs" >533.25 eV</text>
<text x="1268.6" y="423.8" font-size="20" font-weight="bold" textLength="38.9" lengthAdjust="spacingAndGlyphs" >O 1s</text>
<text x="1191.5" y="441.8" font-size="15.4" font-weight="bold" textLength="66.3" lengthAdjust="spacingAndGlyphs" >529.76 eV</text>
<text x="1080.8" y="499.7" font-size="15.4" font-weight="bold" textLength="66" lengthAdjust="spacingAndGlyphs" >531.85 eV</text>
<text x="965.7" y="557.7" font-size="15.4" font-weight="bold" textLength="65.3" lengthAdjust="spacingAndGlyphs" >533.38 eV</text>
<text x="378.3" y="437.7" font-size="18.5" font-weight="bold" textLength="44.8" lengthAdjust="spacingAndGlyphs" >Fe 2p</text>
<text x="293.6" y="455.3" font-size="14.7" font-weight="bold" textLength="65" lengthAdjust="spacingAndGlyphs" >710.59 eV</text>
<text x="249.8" y="503.9" font-size="14.7" font-weight="bold" textLength="62.5" lengthAdjust="spacingAndGlyphs" >724.36 eV</text>
<text x="315.7" y="510.7" font-size="14.7" font-weight="bold" textLength="63.2" lengthAdjust="spacingAndGlyphs" >712.78 eV</text>
<text x="268.6" y="539.9" font-size="14.7" font-weight="bold" textLength="63.9" lengthAdjust="spacingAndGlyphs" >718.98 eV</text>
<text x="72.8" y="523" font-size="14.7" font-weight="bold" textLength="64.6" lengthAdjust="spacingAndGlyphs" >732.78 eV</text>
<text x="141.8" y="507.8" font-size="14.7" font-weight="bold" textLength="63.8" lengthAdjust="spacingAndGlyphs" >726.82 eV</text>
<line x1="380.5" y1="481.5" x2="363.7" y2="464.7" stroke="#000" stroke-width="1.1"/>
<polygon points="359.5,460.4 365.7,462.7 361.7,466.6" fill="#000"/>
<line x1="237" y1="502.2" x2="242.7" y2="498.7" stroke="#000" stroke-width="1.1"/>
<polygon points="247.8,495.5 244.2,501.0 241.2,496.3" fill="#000"/>
<line x1="354.7" y1="529.1" x2="347.8" y2="518.1" stroke="#000" stroke-width="1.1"/>
<polygon points="344.6,513 350.0,516.7 345.6,519.5" fill="#000"/>
<line x1="199.2" y1="520.3" x2="189.7" y2="512.6" stroke="#000" stroke-width="1.1"/>
<polygon points="185.1,508.8 191.4,510.6 188.1,514.6" fill="#000"/>
</svg></body></html>
